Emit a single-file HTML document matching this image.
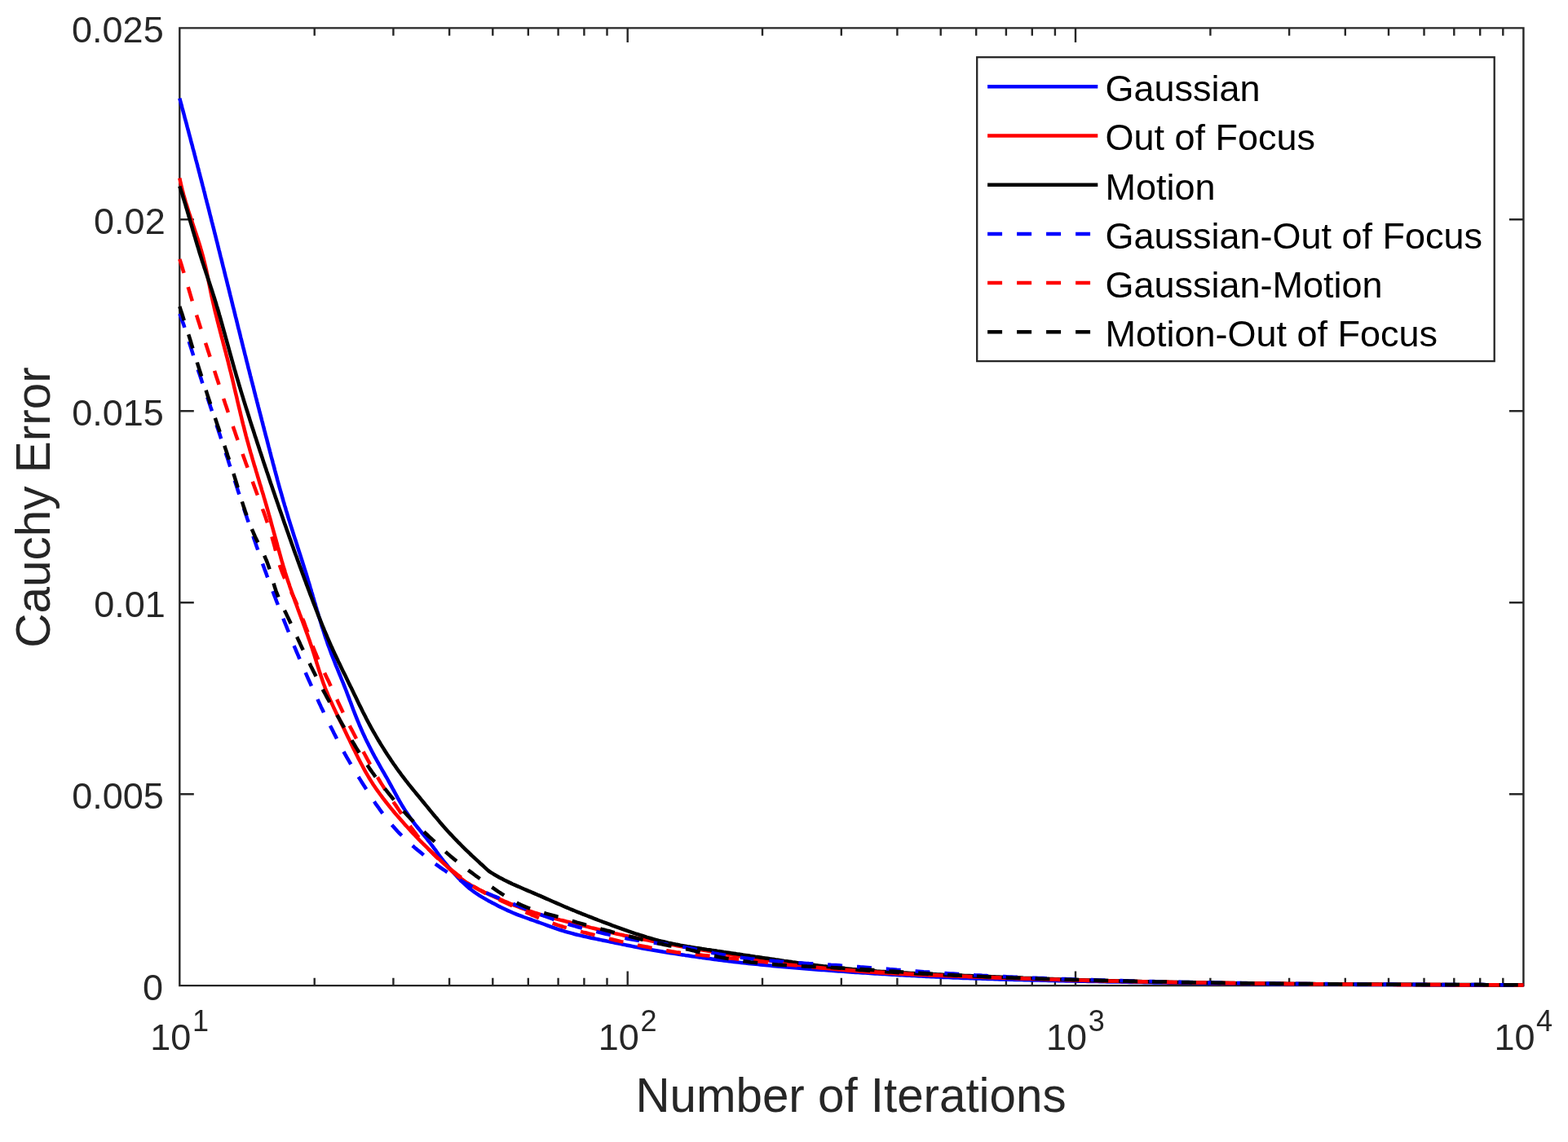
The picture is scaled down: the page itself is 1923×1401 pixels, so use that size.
<!DOCTYPE html><html><head><meta charset="utf-8"><title>Cauchy Error vs Number of Iterations</title>
<style>html,body{margin:0;padding:0;background:#fff;overflow:hidden}svg{display:block}text{font-family:"Liberation Sans",Arial,Helvetica,sans-serif}</style></head><body>
<svg width="1923" height="1401" viewBox="0 0 1923 1401">
<rect x="0" y="0" width="1923" height="1401" fill="#fff"/>
<path d="M220.3,34.4H1868.4V1209.1H220.3ZM220.3,1209.1v-17.5M220.3,34.4v17.5M385.7,1209.1v-9.4M385.7,34.4v9.4M482.4,1209.1v-9.4M482.4,34.4v9.4M551.1,1209.1v-9.4M551.1,34.4v9.4M604.3,1209.1v-9.4M604.3,34.4v9.4M647.8,1209.1v-9.4M647.8,34.4v9.4M684.6,1209.1v-9.4M684.6,34.4v9.4M716.4,1209.1v-9.4M716.4,34.4v9.4M744.5,1209.1v-9.4M744.5,34.4v9.4M769.7,1209.1v-17.5M769.7,34.4v17.5M935.0,1209.1v-9.4M935.0,34.4v9.4M1031.8,1209.1v-9.4M1031.8,34.4v9.4M1100.4,1209.1v-9.4M1100.4,34.4v9.4M1153.7,1209.1v-9.4M1153.7,34.4v9.4M1197.2,1209.1v-9.4M1197.2,34.4v9.4M1233.9,1209.1v-9.4M1233.9,34.4v9.4M1265.8,1209.1v-9.4M1265.8,34.4v9.4M1293.9,1209.1v-9.4M1293.9,34.4v9.4M1319.0,1209.1v-17.5M1319.0,34.4v17.5M1484.4,1209.1v-9.4M1484.4,34.4v9.4M1581.1,1209.1v-9.4M1581.1,34.4v9.4M1649.8,1209.1v-9.4M1649.8,34.4v9.4M1703.0,1209.1v-9.4M1703.0,34.4v9.4M1746.5,1209.1v-9.4M1746.5,34.4v9.4M1783.3,1209.1v-9.4M1783.3,34.4v9.4M1815.2,1209.1v-9.4M1815.2,34.4v9.4M1843.3,1209.1v-9.4M1843.3,34.4v9.4M1868.4,1209.1v-17.5M1868.4,34.4v17.5M220.3,1209.1h17.5M1868.4,1209.1h-17.5M220.3,974.2h17.5M1868.4,974.2h-17.5M220.3,739.2h17.5M1868.4,739.2h-17.5M220.3,504.3h17.5M1868.4,504.3h-17.5M220.3,269.3h17.5M1868.4,269.3h-17.5M220.3,34.4h17.5M1868.4,34.4h-17.5" fill="none" stroke="#262626" stroke-width="2.4" stroke-linecap="butt"/>
<g fill="none" stroke-width="4.5" stroke-linejoin="round" stroke-linecap="butt">
<path d="M220.3,120.7 L221.1,123.6 L221.9,126.5 L222.7,129.4 L223.4,132.3 L224.2,135.2 L225.0,138.1 L225.8,141.0 L226.5,143.9 L227.3,146.8 L228.1,149.7 L228.9,152.6 L229.6,155.5 L230.4,158.4 L231.2,161.3 L231.9,164.2 L232.7,167.1 L233.5,170.0 L234.2,172.9 L235.0,175.8 L235.8,178.7 L236.5,181.6 L237.3,184.5 L238.1,187.4 L238.8,190.3 L239.6,193.2 L240.3,196.1 L241.1,199.0 L241.9,201.9 L242.6,204.8 L243.4,207.7 L244.1,210.6 L244.9,213.5 L245.6,216.4 L246.4,219.3 L247.1,222.2 L247.9,225.1 L248.6,228.0 L249.4,230.9 L250.1,233.8 L250.9,236.7 L251.6,239.7 L252.3,242.6 L253.1,245.5 L253.8,248.4 L254.6,251.3 L255.3,254.2 L256.1,257.1 L256.8,260.0 L257.5,262.9 L258.3,265.8 L259.0,268.7 L259.7,271.6 L260.5,274.5 L261.2,277.4 L262.0,280.4 L262.7,283.3 L263.4,286.2 L264.2,289.1 L264.9,292.0 L265.6,294.9 L266.4,297.8 L267.1,300.7 L267.8,303.6 L268.5,306.5 L269.3,309.4 L270.0,312.4 L270.7,315.3 L271.5,318.2 L272.2,321.1 L272.9,324.0 L273.6,326.9 L274.4,329.8 L275.1,332.7 L275.8,335.6 L276.5,338.6 L277.3,341.5 L278.0,344.4 L278.7,347.3 L279.4,350.2 L280.2,353.1 L280.9,356.0 L281.6,358.9 L282.3,361.8 L283.1,364.8 L283.8,367.7 L284.5,370.6 L285.2,373.5 L285.9,376.4 L286.7,379.3 L287.4,382.2 L288.1,385.1 L288.8,388.1 L289.6,391.0 L290.3,393.9 L291.0,396.8 L291.7,399.7 L292.4,402.6 L293.2,405.5 L293.9,408.4 L294.6,411.3 L295.3,414.3 L296.1,417.2 L296.8,420.1 L297.5,423.0 L298.2,425.9 L299.0,428.8 L299.7,431.7 L300.4,434.6 L301.2,437.5 L301.9,440.5 L302.6,443.4 L303.4,446.3 L304.1,449.2 L304.8,452.1 L305.6,455.0 L306.3,457.9 L307.0,460.8 L307.8,463.7 L308.5,466.6 L309.3,469.5 L310.0,472.4 L310.8,475.3 L311.5,478.2 L312.2,481.2 L313.0,484.1 L313.7,487.0 L314.5,489.9 L315.2,492.8 L316.0,495.7 L316.7,498.6 L317.5,501.5 L318.2,504.4 L319.0,507.3 L319.7,510.2 L320.5,513.1 L321.2,516.0 L322.0,518.9 L322.7,521.8 L323.5,524.7 L324.2,527.6 L325.0,530.5 L325.7,533.4 L326.5,536.3 L327.3,539.2 L328.0,542.2 L328.8,545.1 L329.5,548.0 L330.3,550.9 L331.0,553.8 L331.8,556.7 L332.5,559.6 L333.3,562.5 L334.1,565.4 L334.8,568.3 L335.6,571.2 L336.4,574.1 L337.1,577.0 L337.9,579.9 L338.7,582.8 L339.5,585.7 L340.2,588.6 L341.0,591.5 L341.8,594.4 L342.6,597.3 L343.4,600.1 L344.2,603.0 L345.1,605.9 L345.9,608.8 L346.7,611.7 L347.5,614.6 L348.4,617.5 L349.2,620.3 L350.1,623.2 L350.9,626.1 L351.8,628.9 L352.7,631.8 L353.5,634.7 L354.4,637.6 L355.3,640.4 L356.2,643.3 L357.1,646.1 L358.0,649.0 L358.9,651.9 L359.8,654.7 L360.7,657.6 L361.6,660.4 L362.6,663.3 L363.5,666.1 L364.4,669.0 L365.3,671.9 L366.2,674.7 L367.1,677.6 L368.1,680.4 L369.0,683.3 L369.9,686.1 L370.8,689.0 L371.7,691.9 L372.6,694.7 L373.5,697.6 L374.4,700.5 L375.3,703.3 L376.2,706.2 L377.1,709.1 L377.9,711.9 L378.8,714.8 L379.7,717.7 L380.5,720.6 L381.4,723.4 L382.2,726.3 L383.1,729.2 L383.9,732.1 L384.8,735.0 L385.6,737.8 L386.5,740.7 L387.3,743.6 L388.2,746.5 L389.0,749.4 L389.9,752.2 L390.7,755.1 L391.6,758.0 L392.5,760.9 L393.4,763.7 L394.2,766.6 L395.1,769.5 L396.1,772.3 L397.0,775.2 L397.9,778.0 L398.8,780.9 L399.8,783.7 L400.8,786.5 L401.7,789.4 L402.7,792.2 L403.8,795.0 L404.8,797.8 L405.8,800.6 L406.9,803.4 L408.0,806.2 L409.1,809.0 L410.2,811.8 L411.3,814.6 L412.4,817.4 L413.6,820.2 L414.7,822.9 L415.8,825.7 L417.0,828.5 L418.1,831.3 L419.2,834.0 L420.4,836.8 L421.5,839.6 L422.6,842.4 L423.7,845.2 L424.8,848.0 L425.8,850.8 L426.9,853.6 L428.0,856.4 L429.0,859.2 L430.1,862.0 L431.1,864.8 L432.2,867.7 L433.2,870.5 L434.3,873.3 L435.4,876.1 L436.5,878.8 L437.6,881.6 L438.7,884.4 L439.9,887.2 L441.0,890.0 L442.2,892.7 L443.4,895.5 L444.6,898.2 L445.9,900.9 L447.2,903.7 L448.4,906.4 L449.7,909.1 L451.1,911.8 L452.4,914.5 L453.7,917.1 L455.1,919.8 L456.5,922.5 L457.9,925.1 L459.3,927.8 L460.8,930.4 L462.2,933.0 L463.7,935.7 L465.2,938.3 L466.6,940.9 L468.1,943.5 L469.6,946.1 L471.1,948.7 L472.6,951.3 L474.1,953.9 L475.6,956.5 L477.0,959.1 L478.5,961.8 L479.9,964.4 L481.3,967.0 L482.8,969.7 L484.2,972.3 L485.6,974.9 L487.1,977.6 L488.5,980.2 L490.0,982.8 L491.5,985.4 L493.0,988.0 L494.6,990.5 L496.2,993.1 L497.8,995.6 L499.5,998.1 L501.2,1000.6 L502.9,1003.0 L504.7,1005.5 L506.5,1007.9 L508.3,1010.3 L510.1,1012.6 L512.0,1015.0 L513.9,1017.3 L515.8,1019.6 L517.7,1022.0 L519.6,1024.3 L521.5,1026.6 L523.4,1028.9 L525.2,1031.3 L527.1,1033.6 L528.9,1036.0 L530.7,1038.4 L532.5,1040.8 L534.3,1043.2 L536.1,1045.7 L537.8,1048.1 L539.6,1050.5 L541.4,1052.9 L543.3,1055.3 L545.1,1057.6 L547.0,1060.0 L548.9,1062.3 L550.8,1064.6 L552.8,1066.9 L554.7,1069.1 L556.7,1071.3 L558.8,1073.6 L560.8,1075.7 L562.9,1077.9 L565.0,1080.0 L567.2,1082.2 L569.3,1084.2 L571.6,1086.3 L573.8,1088.2 L576.1,1090.2 L578.5,1092.0 L580.9,1093.8 L583.3,1095.5 L585.8,1097.2 L588.3,1098.8 L590.9,1100.4 L593.5,1101.9 L596.1,1103.4 L598.7,1104.9 L601.4,1106.3 L604.0,1107.7 L606.7,1109.1 L609.4,1110.5 L612.0,1111.9 L614.7,1113.2 L617.4,1114.5 L620.1,1115.8 L622.9,1117.1 L625.6,1118.3 L628.3,1119.5 L631.1,1120.7 L633.9,1121.8 L636.7,1122.9 L639.5,1123.9 L642.3,1125.0 L645.1,1126.0 L647.9,1127.0 L650.8,1128.0 L653.6,1129.0 L656.4,1130.0 L659.3,1131.0 L662.1,1132.0 L664.9,1133.0 L667.7,1134.0 L670.6,1135.1 L673.4,1136.1 L676.2,1137.1 L679.0,1138.1 L681.9,1139.1 L684.7,1140.1 L687.5,1141.0 L690.4,1141.9 L693.3,1142.8 L696.1,1143.6 L699.0,1144.4 L701.9,1145.2 L704.8,1146.0 L707.7,1146.7 L710.7,1147.4 L713.6,1148.1 L716.5,1148.8 L719.4,1149.4 L722.4,1150.0 L725.3,1150.7 L728.2,1151.3 L731.2,1151.9 L734.1,1152.5 L737.1,1153.1 L740.0,1153.7 L743.0,1154.3 L745.9,1154.9 L748.8,1155.5 L751.8,1156.1 L754.7,1156.7 L757.7,1157.3 L760.6,1157.9 L763.5,1158.5 L766.5,1159.1 L769.4,1159.7 L772.4,1160.3 L775.3,1160.9 L778.2,1161.5 L781.2,1162.0 L784.1,1162.6 L787.1,1163.2 L790.0,1163.7 L793.0,1164.2 L795.9,1164.8 L798.9,1165.3 L801.8,1165.8 L804.8,1166.3 L807.8,1166.8 L810.7,1167.3 L813.7,1167.8 L816.6,1168.2 L819.6,1168.7 L822.6,1169.2 L825.5,1169.6 L828.5,1170.1 L831.5,1170.5 L834.4,1171.0 L837.4,1171.4 L840.4,1171.9 L843.3,1172.3 L846.3,1172.7 L849.3,1173.2 L852.3,1173.6 L855.2,1174.0 L858.2,1174.4 L861.2,1174.9 L864.1,1175.3 L867.1,1175.7 L870.1,1176.1 L873.0,1176.5 L876.0,1176.9 L879.0,1177.3 L882.0,1177.7 L884.9,1178.0 L887.9,1178.4 L890.9,1178.8 L893.9,1179.2 L896.9,1179.5 L899.8,1179.9 L902.8,1180.2 L905.8,1180.6 L908.8,1180.9 L911.8,1181.2 L914.7,1181.6 L917.7,1181.9 L920.7,1182.2 L923.7,1182.5 L926.7,1182.8 L929.7,1183.1 L932.6,1183.4 L935.6,1183.7 L938.6,1184.0 L941.6,1184.3 L944.6,1184.6 L947.6,1184.9 L950.6,1185.2 L953.5,1185.4 L956.5,1185.7 L959.5,1186.0 L962.5,1186.3 L965.5,1186.5 L968.5,1186.8 L971.5,1187.0 L974.5,1187.3 L977.5,1187.5 L980.5,1187.8 L983.4,1188.0 L986.4,1188.3 L989.4,1188.5 L992.4,1188.7 L995.4,1189.0 L998.4,1189.2 L1001.4,1189.4 L1004.4,1189.7 L1007.4,1189.9 L1010.4,1190.1 L1013.4,1190.3 L1016.4,1190.5 L1019.4,1190.8 L1022.3,1191.0 L1025.3,1191.2 L1028.3,1191.4 L1031.3,1191.6 L1034.3,1191.8 L1037.3,1192.0 L1040.3,1192.2 L1043.3,1192.5 L1046.3,1192.7 L1049.3,1192.9 L1052.3,1193.1 L1055.3,1193.3 L1058.3,1193.4 L1061.3,1193.6 L1064.3,1193.8 L1067.2,1194.0 L1070.2,1194.2 L1073.2,1194.4 L1076.2,1194.6 L1079.2,1194.8 L1082.2,1195.0 L1085.2,1195.1 L1088.2,1195.3 L1091.2,1195.5 L1094.2,1195.7 L1097.2,1195.8 L1100.2,1196.0 L1103.2,1196.2 L1106.2,1196.3 L1109.2,1196.5 L1112.2,1196.7 L1115.2,1196.8 L1118.2,1197.0 L1121.2,1197.1 L1124.2,1197.3 L1127.2,1197.5 L1130.1,1197.6 L1133.1,1197.8 L1136.1,1197.9 L1139.1,1198.0 L1142.1,1198.2 L1145.1,1198.3 L1148.1,1198.5 L1151.1,1198.6 L1154.1,1198.7 L1157.1,1198.9 L1160.1,1199.0 L1163.1,1199.1 L1166.1,1199.3 L1169.1,1199.4 L1172.1,1199.5 L1175.1,1199.6 L1178.1,1199.7 L1181.1,1199.9 L1184.1,1200.0 L1187.1,1200.1 L1190.1,1200.2 L1193.1,1200.3 L1196.1,1200.4 L1199.1,1200.5 L1202.1,1200.6 L1205.1,1200.7 L1208.1,1200.8 L1211.1,1200.9 L1214.1,1201.0 L1217.1,1201.1 L1220.1,1201.2 L1223.1,1201.3 L1226.1,1201.4 L1229.1,1201.5 L1232.1,1201.5 L1235.1,1201.6 L1238.1,1201.7 L1241.1,1201.8 L1244.1,1201.9 L1247.1,1202.0 L1250.1,1202.0 L1253.1,1202.1 L1256.1,1202.2 L1259.1,1202.3 L1262.1,1202.3 L1265.1,1202.4 L1268.1,1202.5 L1271.1,1202.6 L1274.1,1202.6 L1277.0,1202.7 L1280.0,1202.8 L1283.0,1202.8 L1286.0,1202.9 L1289.0,1203.0 L1292.0,1203.0 L1295.0,1203.1 L1298.0,1203.2 L1301.0,1203.2 L1304.0,1203.3 L1307.0,1203.4 L1310.0,1203.4 L1313.0,1203.5 L1316.0,1203.5 L1319.0,1203.6 L1322.0,1203.7 L1325.0,1203.7 L1328.0,1203.8 L1331.0,1203.8 L1334.0,1203.9 L1337.0,1204.0 L1340.0,1204.0 L1343.0,1204.1 L1346.0,1204.1 L1349.0,1204.2 L1352.0,1204.3 L1355.0,1204.3 L1358.0,1204.4 L1361.0,1204.4 L1364.0,1204.5 L1367.0,1204.5 L1370.0,1204.6 L1373.0,1204.6 L1376.0,1204.7 L1379.0,1204.8 L1382.0,1204.8 L1385.0,1204.9 L1388.0,1204.9 L1391.0,1205.0 L1394.0,1205.0 L1397.0,1205.1 L1400.0,1205.1 L1403.0,1205.2 L1406.0,1205.2 L1409.0,1205.3 L1412.0,1205.3 L1415.0,1205.4 L1418.0,1205.4 L1421.0,1205.5 L1424.0,1205.5 L1427.0,1205.6 L1430.0,1205.6 L1433.0,1205.7 L1436.0,1205.7 L1439.0,1205.8 L1442.0,1205.8 L1445.0,1205.8 L1448.0,1205.9 L1451.0,1205.9 L1454.0,1206.0 L1457.0,1206.0 L1460.0,1206.1 L1463.0,1206.1 L1466.0,1206.1 L1469.0,1206.2 L1472.0,1206.2 L1475.0,1206.3 L1478.0,1206.3 L1481.0,1206.3 L1484.0,1206.4 L1487.0,1206.4 L1490.0,1206.5 L1493.0,1206.5 L1496.0,1206.5 L1499.0,1206.6 L1502.0,1206.6 L1505.0,1206.6 L1508.0,1206.7 L1511.0,1206.7 L1514.0,1206.7 L1517.0,1206.8 L1520.0,1206.8 L1523.0,1206.8 L1526.0,1206.9 L1529.0,1206.9 L1532.0,1206.9 L1535.0,1207.0 L1538.0,1207.0 L1541.0,1207.0 L1544.0,1207.1 L1547.0,1207.1 L1550.0,1207.1 L1553.0,1207.1 L1556.0,1207.2 L1559.0,1207.2 L1562.0,1207.2 L1565.0,1207.2 L1568.0,1207.3 L1571.0,1207.3 L1574.0,1207.3 L1577.0,1207.3 L1580.0,1207.4 L1583.0,1207.4 L1586.0,1207.4 L1589.0,1207.4 L1592.0,1207.4 L1595.0,1207.5 L1598.0,1207.5 L1601.0,1207.5 L1604.0,1207.5 L1607.0,1207.5 L1610.0,1207.6 L1613.0,1207.6 L1616.0,1207.6 L1619.0,1207.6 L1622.0,1207.6 L1625.0,1207.7 L1628.0,1207.7 L1631.0,1207.7 L1634.0,1207.7 L1637.0,1207.7 L1640.0,1207.7 L1643.0,1207.7 L1646.0,1207.8 L1649.0,1207.8 L1652.0,1207.8 L1655.0,1207.8 L1658.0,1207.8 L1661.0,1207.8 L1664.0,1207.9 L1667.0,1207.9 L1670.0,1207.9 L1673.0,1207.9 L1676.0,1207.9 L1679.0,1207.9 L1682.0,1207.9 L1685.0,1207.9 L1688.0,1208.0 L1691.0,1208.0 L1694.0,1208.0 L1697.0,1208.0 L1700.0,1208.0 L1703.0,1208.0 L1706.0,1208.0 L1709.0,1208.0 L1712.0,1208.0 L1715.0,1208.1 L1718.0,1208.1 L1721.0,1208.1 L1724.0,1208.1 L1727.0,1208.1 L1730.0,1208.1 L1733.0,1208.1 L1736.0,1208.1 L1739.0,1208.1 L1742.0,1208.1 L1745.0,1208.2 L1748.0,1208.2 L1751.0,1208.2 L1754.0,1208.2 L1757.0,1208.2 L1760.0,1208.2 L1763.0,1208.2 L1766.0,1208.2 L1769.0,1208.2 L1772.0,1208.2 L1775.0,1208.3 L1778.0,1208.3 L1781.0,1208.3 L1784.0,1208.3 L1787.0,1208.3 L1790.0,1208.3 L1793.0,1208.3 L1796.0,1208.3 L1799.0,1208.3 L1802.0,1208.3 L1805.0,1208.4 L1808.0,1208.4 L1811.0,1208.4 L1814.0,1208.4 L1817.0,1208.4 L1820.0,1208.4 L1823.0,1208.4 L1826.0,1208.4 L1829.0,1208.4 L1832.0,1208.5 L1835.0,1208.5 L1838.0,1208.5 L1841.0,1208.5 L1844.0,1208.5 L1847.0,1208.5 L1850.0,1208.5 L1853.0,1208.5 L1856.0,1208.5 L1859.0,1208.6 L1862.0,1208.6 L1865.0,1208.6 L1868.0,1208.6 L1868.4,1208.6" stroke="#0000ff"/>
<path d="M220.3,218.5 L220.9,221.4 L221.5,224.4 L222.2,227.3 L222.9,230.2 L223.6,233.1 L224.4,236.0 L225.1,238.9 L226.0,241.8 L226.8,244.7 L227.6,247.6 L228.5,250.5 L229.4,253.3 L230.3,256.2 L231.2,259.1 L232.1,261.9 L233.1,264.8 L234.0,267.6 L235.0,270.5 L235.9,273.3 L236.9,276.2 L237.8,279.0 L238.8,281.9 L239.7,284.7 L240.7,287.6 L241.6,290.4 L242.6,293.3 L243.5,296.1 L244.4,299.0 L245.3,301.9 L246.1,304.7 L247.0,307.6 L247.8,310.5 L248.6,313.4 L249.4,316.3 L250.1,319.2 L250.8,322.1 L251.5,325.0 L252.2,327.9 L252.9,330.8 L253.5,333.8 L254.1,336.7 L254.7,339.6 L255.3,342.6 L255.9,345.5 L256.5,348.5 L257.1,351.4 L257.7,354.4 L258.3,357.3 L258.9,360.2 L259.5,363.2 L260.2,366.1 L260.8,369.0 L261.5,372.0 L262.2,374.9 L262.8,377.8 L263.5,380.7 L264.2,383.6 L265.0,386.6 L265.7,389.5 L266.4,392.4 L267.1,395.3 L267.9,398.2 L268.6,401.1 L269.4,404.0 L270.1,406.9 L270.9,409.8 L271.6,412.7 L272.4,415.6 L273.2,418.5 L273.9,421.4 L274.7,424.3 L275.4,427.2 L276.2,430.1 L277.0,433.0 L277.7,435.9 L278.5,438.8 L279.2,441.7 L280.0,444.7 L280.7,447.6 L281.4,450.5 L282.1,453.4 L282.9,456.3 L283.6,459.2 L284.3,462.1 L285.0,465.1 L285.7,468.0 L286.4,470.9 L287.0,473.8 L287.7,476.7 L288.4,479.7 L289.1,482.6 L289.8,485.5 L290.5,488.4 L291.1,491.3 L291.8,494.3 L292.5,497.2 L293.2,500.1 L293.9,503.0 L294.6,505.9 L295.3,508.9 L296.0,511.8 L296.7,514.7 L297.4,517.6 L298.1,520.5 L298.9,523.4 L299.6,526.3 L300.3,529.2 L301.1,532.1 L301.8,535.0 L302.6,537.9 L303.4,540.8 L304.2,543.7 L305.0,546.6 L305.8,549.5 L306.6,552.4 L307.4,555.3 L308.3,558.2 L309.1,561.0 L309.9,563.9 L310.8,566.8 L311.6,569.7 L312.5,572.5 L313.4,575.4 L314.2,578.3 L315.1,581.2 L315.9,584.0 L316.8,586.9 L317.7,589.8 L318.5,592.7 L319.4,595.5 L320.3,598.4 L321.1,601.3 L322.0,604.2 L322.9,607.0 L323.7,609.9 L324.6,612.8 L325.4,615.7 L326.2,618.5 L327.1,621.4 L327.9,624.3 L328.7,627.2 L329.5,630.1 L330.3,633.0 L331.2,635.9 L332.0,638.8 L332.7,641.7 L333.5,644.6 L334.3,647.5 L335.1,650.4 L335.9,653.3 L336.7,656.1 L337.5,659.0 L338.3,661.9 L339.1,664.8 L339.9,667.7 L340.6,670.6 L341.5,673.5 L342.3,676.4 L343.1,679.3 L343.9,682.2 L344.7,685.1 L345.5,687.9 L346.4,690.8 L347.2,693.7 L348.1,696.6 L349.0,699.4 L349.8,702.3 L350.7,705.2 L351.6,708.0 L352.6,710.9 L353.5,713.7 L354.5,716.6 L355.4,719.4 L356.4,722.2 L357.4,725.1 L358.4,727.9 L359.4,730.7 L360.4,733.5 L361.4,736.4 L362.4,739.2 L363.5,742.0 L364.5,744.8 L365.5,747.6 L366.6,750.4 L367.6,753.3 L368.7,756.1 L369.7,758.9 L370.8,761.7 L371.8,764.5 L372.8,767.3 L373.9,770.1 L374.9,773.0 L375.9,775.8 L377.0,778.6 L378.0,781.4 L379.0,784.3 L380.0,787.1 L380.9,789.9 L381.9,792.8 L382.9,795.6 L383.8,798.5 L384.7,801.3 L385.6,804.2 L386.5,807.1 L387.4,809.9 L388.3,812.8 L389.2,815.7 L390.1,818.5 L391.0,821.4 L391.9,824.2 L392.9,827.1 L393.8,829.9 L394.8,832.8 L395.7,835.6 L396.7,838.4 L397.8,841.3 L398.8,844.1 L399.9,846.8 L401.1,849.6 L402.2,852.4 L403.4,855.1 L404.6,857.9 L405.8,860.6 L407.1,863.3 L408.4,866.1 L409.6,868.8 L410.9,871.5 L412.2,874.2 L413.5,876.9 L414.9,879.6 L416.2,882.3 L417.5,885.0 L418.8,887.7 L420.1,890.4 L421.4,893.1 L422.7,895.8 L424.0,898.5 L425.3,901.2 L426.6,903.9 L427.9,906.6 L429.2,909.3 L430.5,912.0 L431.8,914.7 L433.1,917.4 L434.5,920.1 L435.8,922.8 L437.1,925.5 L438.5,928.2 L439.8,930.9 L441.2,933.5 L442.6,936.2 L444.0,938.8 L445.4,941.5 L446.8,944.1 L448.3,946.8 L449.8,949.4 L451.3,952.0 L452.8,954.5 L454.4,957.1 L456.0,959.6 L457.6,962.2 L459.3,964.7 L460.9,967.1 L462.7,969.6 L464.4,972.0 L466.2,974.5 L468.0,976.9 L469.8,979.3 L471.6,981.7 L473.4,984.0 L475.3,986.4 L477.2,988.7 L479.1,991.1 L481.0,993.4 L482.9,995.7 L484.8,998.0 L486.8,1000.3 L488.7,1002.5 L490.7,1004.8 L492.7,1007.1 L494.7,1009.3 L496.6,1011.6 L498.7,1013.8 L500.7,1016.0 L502.7,1018.2 L504.7,1020.4 L506.8,1022.6 L508.9,1024.8 L510.9,1027.0 L513.0,1029.1 L515.1,1031.3 L517.2,1033.4 L519.3,1035.5 L521.5,1037.6 L523.6,1039.7 L525.7,1041.8 L527.9,1043.9 L530.1,1046.0 L532.2,1048.0 L534.4,1050.1 L536.6,1052.2 L538.8,1054.2 L541.0,1056.3 L543.2,1058.3 L545.4,1060.4 L547.6,1062.4 L549.8,1064.5 L552.0,1066.5 L554.2,1068.5 L556.5,1070.5 L558.8,1072.5 L561.1,1074.4 L563.4,1076.3 L565.8,1078.1 L568.2,1079.9 L570.6,1081.6 L573.1,1083.3 L575.7,1084.8 L578.2,1086.4 L580.9,1087.8 L583.5,1089.3 L586.2,1090.7 L588.9,1092.0 L591.6,1093.3 L594.3,1094.7 L597.0,1095.9 L599.7,1097.2 L602.4,1098.5 L605.2,1099.7 L607.9,1100.9 L610.7,1102.1 L613.4,1103.3 L616.2,1104.5 L618.9,1105.7 L621.7,1106.9 L624.4,1108.0 L627.2,1109.2 L630.0,1110.3 L632.8,1111.4 L635.6,1112.5 L638.4,1113.6 L641.2,1114.7 L644.0,1115.7 L646.8,1116.7 L649.6,1117.7 L652.5,1118.7 L655.3,1119.6 L658.2,1120.5 L661.1,1121.4 L663.9,1122.3 L666.8,1123.1 L669.7,1123.9 L672.6,1124.7 L675.5,1125.5 L678.4,1126.3 L681.3,1127.1 L684.2,1127.8 L687.1,1128.6 L690.0,1129.3 L692.9,1130.0 L695.8,1130.8 L698.7,1131.5 L701.6,1132.3 L704.6,1133.0 L707.5,1133.7 L710.4,1134.5 L713.3,1135.2 L716.2,1135.9 L719.1,1136.6 L722.0,1137.3 L724.9,1138.1 L727.8,1138.8 L730.8,1139.5 L733.7,1140.2 L736.6,1140.9 L739.5,1141.6 L742.4,1142.3 L745.3,1143.0 L748.3,1143.7 L751.2,1144.4 L754.1,1145.1 L757.0,1145.7 L760.0,1146.4 L762.9,1147.0 L765.8,1147.7 L768.7,1148.3 L771.7,1148.9 L774.6,1149.5 L777.6,1150.1 L780.5,1150.7 L783.4,1151.3 L786.4,1151.9 L789.3,1152.5 L792.3,1153.1 L795.2,1153.6 L798.2,1154.2 L801.1,1154.8 L804.1,1155.3 L807.0,1155.9 L810.0,1156.4 L812.9,1157.0 L815.9,1157.5 L818.8,1158.0 L821.8,1158.6 L824.7,1159.1 L827.7,1159.6 L830.6,1160.2 L833.6,1160.7 L836.5,1161.2 L839.5,1161.7 L842.4,1162.2 L845.4,1162.7 L848.4,1163.3 L851.3,1163.8 L854.3,1164.3 L857.2,1164.8 L860.2,1165.2 L863.1,1165.7 L866.1,1166.2 L869.1,1166.7 L872.0,1167.2 L875.0,1167.7 L877.9,1168.2 L880.9,1168.7 L883.9,1169.2 L886.8,1169.7 L889.8,1170.1 L892.7,1170.6 L895.7,1171.1 L898.7,1171.6 L901.6,1172.1 L904.6,1172.6 L907.6,1173.0 L910.5,1173.5 L913.5,1174.0 L916.5,1174.5 L919.4,1174.9 L922.4,1175.4 L925.3,1175.9 L928.3,1176.3 L931.3,1176.8 L934.2,1177.2 L937.2,1177.7 L940.2,1178.2 L943.1,1178.6 L946.1,1179.0 L949.1,1179.5 L952.1,1179.9 L955.0,1180.4 L958.0,1180.8 L961.0,1181.2 L963.9,1181.6 L966.9,1182.0 L969.9,1182.5 L972.8,1182.9 L975.8,1183.3 L978.8,1183.7 L981.8,1184.0 L984.7,1184.4 L987.7,1184.8 L990.7,1185.2 L993.7,1185.6 L996.6,1185.9 L999.6,1186.3 L1002.6,1186.6 L1005.6,1187.0 L1008.6,1187.3 L1011.5,1187.6 L1014.5,1187.9 L1017.5,1188.3 L1020.5,1188.6 L1023.5,1188.9 L1026.5,1189.2 L1029.4,1189.5 L1032.4,1189.7 L1035.4,1190.0 L1038.4,1190.3 L1041.4,1190.5 L1044.4,1190.8 L1047.4,1191.0 L1050.4,1191.3 L1053.3,1191.5 L1056.3,1191.7 L1059.3,1192.0 L1062.3,1192.2 L1065.3,1192.4 L1068.3,1192.6 L1071.3,1192.8 L1074.3,1193.0 L1077.3,1193.2 L1080.3,1193.4 L1083.3,1193.6 L1086.3,1193.7 L1089.3,1193.9 L1092.3,1194.1 L1095.3,1194.2 L1098.3,1194.4 L1101.3,1194.6 L1104.2,1194.7 L1107.2,1194.9 L1110.2,1195.0 L1113.2,1195.2 L1116.2,1195.3 L1119.2,1195.4 L1122.2,1195.6 L1125.2,1195.7 L1128.2,1195.9 L1131.2,1196.0 L1134.2,1196.1 L1137.2,1196.2 L1140.2,1196.4 L1143.2,1196.5 L1146.2,1196.6 L1149.2,1196.7 L1152.2,1196.8 L1155.2,1197.0 L1158.2,1197.1 L1161.2,1197.2 L1164.2,1197.3 L1167.2,1197.4 L1170.2,1197.5 L1173.2,1197.6 L1176.2,1197.8 L1179.2,1197.9 L1182.2,1198.0 L1185.2,1198.1 L1188.2,1198.2 L1191.2,1198.3 L1194.2,1198.4 L1197.2,1198.5 L1200.2,1198.6 L1203.2,1198.7 L1206.2,1198.9 L1209.2,1199.0 L1212.2,1199.1 L1215.2,1199.2 L1218.2,1199.3 L1221.2,1199.4 L1224.2,1199.5 L1227.2,1199.6 L1230.2,1199.7 L1233.2,1199.8 L1236.2,1199.9 L1239.2,1200.0 L1242.2,1200.1 L1245.2,1200.2 L1248.2,1200.3 L1251.2,1200.4 L1254.2,1200.5 L1257.2,1200.6 L1260.2,1200.7 L1263.2,1200.8 L1266.2,1200.9 L1269.2,1201.0 L1272.2,1201.1 L1275.2,1201.2 L1278.2,1201.3 L1281.2,1201.4 L1284.2,1201.5 L1287.2,1201.6 L1290.2,1201.7 L1293.2,1201.8 L1296.2,1201.8 L1299.2,1201.9 L1302.2,1202.0 L1305.2,1202.1 L1308.1,1202.2 L1311.1,1202.3 L1314.1,1202.4 L1317.1,1202.4 L1320.1,1202.5 L1323.1,1202.6 L1326.1,1202.7 L1329.1,1202.8 L1332.1,1202.9 L1335.1,1202.9 L1338.1,1203.0 L1341.1,1203.1 L1344.1,1203.2 L1347.1,1203.2 L1350.1,1203.3 L1353.1,1203.4 L1356.1,1203.5 L1359.1,1203.5 L1362.1,1203.6 L1365.1,1203.7 L1368.1,1203.7 L1371.1,1203.8 L1374.1,1203.9 L1377.1,1203.9 L1380.1,1204.0 L1383.1,1204.1 L1386.1,1204.1 L1389.1,1204.2 L1392.1,1204.3 L1395.1,1204.3 L1398.1,1204.4 L1401.1,1204.4 L1404.1,1204.5 L1407.1,1204.6 L1410.1,1204.6 L1413.1,1204.7 L1416.1,1204.7 L1419.1,1204.8 L1422.1,1204.8 L1425.1,1204.9 L1428.1,1205.0 L1431.1,1205.0 L1434.1,1205.1 L1437.1,1205.1 L1440.1,1205.2 L1443.1,1205.2 L1446.1,1205.3 L1449.1,1205.3 L1452.1,1205.4 L1455.1,1205.4 L1458.1,1205.5 L1461.1,1205.5 L1464.1,1205.5 L1467.1,1205.6 L1470.1,1205.6 L1473.1,1205.7 L1476.1,1205.7 L1479.1,1205.8 L1482.1,1205.8 L1485.1,1205.9 L1488.1,1205.9 L1491.1,1205.9 L1494.1,1206.0 L1497.1,1206.0 L1500.1,1206.1 L1503.1,1206.1 L1506.1,1206.1 L1509.1,1206.2 L1512.1,1206.2 L1515.1,1206.3 L1518.1,1206.3 L1521.1,1206.3 L1524.1,1206.4 L1527.1,1206.4 L1530.1,1206.4 L1533.1,1206.5 L1536.1,1206.5 L1539.1,1206.5 L1542.1,1206.6 L1545.1,1206.6 L1548.1,1206.6 L1551.1,1206.7 L1554.1,1206.7 L1557.1,1206.7 L1560.1,1206.8 L1563.1,1206.8 L1566.1,1206.8 L1569.1,1206.8 L1572.1,1206.9 L1575.1,1206.9 L1578.1,1206.9 L1581.1,1207.0 L1584.1,1207.0 L1587.1,1207.0 L1590.1,1207.0 L1593.1,1207.1 L1596.1,1207.1 L1599.1,1207.1 L1602.1,1207.1 L1605.1,1207.2 L1608.1,1207.2 L1611.1,1207.2 L1614.1,1207.2 L1617.1,1207.3 L1620.1,1207.3 L1623.1,1207.3 L1626.1,1207.3 L1629.1,1207.4 L1632.1,1207.4 L1635.1,1207.4 L1638.1,1207.4 L1641.1,1207.4 L1644.1,1207.5 L1647.1,1207.5 L1650.1,1207.5 L1653.1,1207.5 L1656.1,1207.5 L1659.1,1207.6 L1662.1,1207.6 L1665.1,1207.6 L1668.1,1207.6 L1671.1,1207.6 L1674.1,1207.7 L1677.1,1207.7 L1680.1,1207.7 L1683.1,1207.7 L1686.1,1207.7 L1689.1,1207.7 L1692.1,1207.8 L1695.1,1207.8 L1698.1,1207.8 L1701.1,1207.8 L1704.1,1207.8 L1707.1,1207.8 L1710.1,1207.9 L1713.1,1207.9 L1716.1,1207.9 L1719.1,1207.9 L1722.1,1207.9 L1725.1,1207.9 L1728.1,1207.9 L1731.1,1208.0 L1734.1,1208.0 L1737.1,1208.0 L1740.1,1208.0 L1743.1,1208.0 L1746.1,1208.0 L1749.1,1208.0 L1752.1,1208.1 L1755.1,1208.1 L1758.1,1208.1 L1761.1,1208.1 L1764.1,1208.1 L1767.1,1208.1 L1770.1,1208.1 L1773.1,1208.1 L1776.1,1208.2 L1779.1,1208.2 L1782.1,1208.2 L1785.1,1208.2 L1788.1,1208.2 L1791.1,1208.2 L1794.1,1208.2 L1797.1,1208.2 L1800.1,1208.2 L1803.1,1208.3 L1806.1,1208.3 L1809.1,1208.3 L1812.1,1208.3 L1815.1,1208.3 L1818.1,1208.3 L1821.1,1208.3 L1824.1,1208.3 L1827.1,1208.3 L1830.1,1208.4 L1833.1,1208.4 L1836.1,1208.4 L1839.1,1208.4 L1842.1,1208.4 L1845.1,1208.4 L1848.1,1208.4 L1851.1,1208.4 L1854.1,1208.4 L1857.1,1208.5 L1860.1,1208.5 L1863.1,1208.5 L1866.1,1208.5 L1868.4,1208.5" stroke="#ff0000"/>
<path d="M220.3,228.5 L221.2,231.4 L222.1,234.2 L223.1,237.1 L224.0,239.9 L224.8,242.8 L225.7,245.7 L226.6,248.5 L227.5,251.4 L228.3,254.3 L229.2,257.2 L230.0,260.0 L230.9,262.9 L231.7,265.8 L232.6,268.7 L233.4,271.6 L234.2,274.4 L235.1,277.3 L235.9,280.2 L236.7,283.1 L237.6,286.0 L238.4,288.8 L239.3,291.7 L240.1,294.6 L241.0,297.5 L241.8,300.3 L242.7,303.2 L243.6,306.1 L244.4,309.0 L245.3,311.8 L246.2,314.7 L247.1,317.5 L248.0,320.4 L249.0,323.3 L249.9,326.1 L250.8,329.0 L251.8,331.8 L252.7,334.7 L253.7,337.5 L254.6,340.3 L255.6,343.2 L256.5,346.0 L257.5,348.9 L258.4,351.7 L259.3,354.6 L260.3,357.4 L261.2,360.3 L262.1,363.1 L263.0,366.0 L263.9,368.9 L264.8,371.7 L265.6,374.6 L266.5,377.5 L267.4,380.4 L268.2,383.2 L269.0,386.1 L269.9,389.0 L270.7,391.9 L271.5,394.8 L272.3,397.7 L273.1,400.6 L273.9,403.4 L274.7,406.3 L275.5,409.2 L276.3,412.1 L277.1,415.0 L277.9,417.9 L278.7,420.8 L279.5,423.7 L280.3,426.6 L281.1,429.5 L281.9,432.4 L282.7,435.3 L283.5,438.2 L284.3,441.1 L285.1,443.9 L285.9,446.8 L286.7,449.7 L287.5,452.6 L288.4,455.5 L289.2,458.4 L290.0,461.3 L290.9,464.1 L291.7,467.0 L292.6,469.9 L293.4,472.8 L294.3,475.6 L295.1,478.5 L296.0,481.4 L296.9,484.3 L297.8,487.1 L298.6,490.0 L299.5,492.9 L300.4,495.7 L301.3,498.6 L302.2,501.5 L303.1,504.3 L304.0,507.2 L304.9,510.0 L305.8,512.9 L306.7,515.8 L307.6,518.6 L308.5,521.5 L309.4,524.3 L310.4,527.2 L311.3,530.0 L312.2,532.9 L313.1,535.8 L314.1,538.6 L315.0,541.5 L315.9,544.3 L316.9,547.2 L317.8,550.0 L318.7,552.9 L319.7,555.7 L320.6,558.6 L321.6,561.4 L322.5,564.3 L323.4,567.1 L324.4,570.0 L325.3,572.8 L326.3,575.6 L327.2,578.5 L328.2,581.3 L329.2,584.2 L330.1,587.0 L331.1,589.9 L332.0,592.7 L333.0,595.5 L334.0,598.4 L334.9,601.2 L335.9,604.1 L336.9,606.9 L337.8,609.7 L338.8,612.6 L339.8,615.4 L340.8,618.3 L341.7,621.1 L342.7,623.9 L343.7,626.8 L344.7,629.6 L345.7,632.4 L346.7,635.3 L347.6,638.1 L348.6,640.9 L349.6,643.8 L350.6,646.6 L351.6,649.4 L352.6,652.2 L353.6,655.1 L354.6,657.9 L355.6,660.7 L356.6,663.6 L357.6,666.4 L358.6,669.2 L359.6,672.0 L360.6,674.9 L361.6,677.7 L362.6,680.5 L363.7,683.3 L364.7,686.2 L365.7,689.0 L366.7,691.8 L367.7,694.6 L368.8,697.4 L369.8,700.3 L370.8,703.1 L371.9,705.9 L372.9,708.7 L373.9,711.5 L375.0,714.3 L376.0,717.2 L377.1,720.0 L378.1,722.8 L379.2,725.6 L380.2,728.4 L381.3,731.2 L382.4,734.0 L383.4,736.8 L384.5,739.6 L385.6,742.4 L386.7,745.2 L387.7,748.0 L388.8,750.8 L389.9,753.6 L391.0,756.4 L392.2,759.2 L393.3,762.0 L394.4,764.8 L395.5,767.5 L396.7,770.3 L397.8,773.1 L399.0,775.8 L400.2,778.6 L401.3,781.4 L402.5,784.1 L403.7,786.9 L404.9,789.6 L406.1,792.4 L407.4,795.1 L408.6,797.8 L409.9,800.6 L411.1,803.3 L412.4,806.0 L413.7,808.7 L414.9,811.4 L416.2,814.1 L417.5,816.8 L418.8,819.5 L420.1,822.2 L421.4,824.9 L422.8,827.6 L424.1,830.3 L425.4,833.0 L426.7,835.7 L428.0,838.4 L429.3,841.1 L430.7,843.8 L432.0,846.5 L433.3,849.2 L434.6,851.9 L435.9,854.6 L437.2,857.3 L438.5,860.0 L439.8,862.7 L441.1,865.4 L442.5,868.1 L443.8,870.8 L445.1,873.5 L446.5,876.1 L447.9,878.8 L449.2,881.5 L450.6,884.1 L452.0,886.8 L453.4,889.4 L454.9,892.1 L456.3,894.7 L457.8,897.3 L459.3,899.9 L460.8,902.5 L462.3,905.1 L463.8,907.7 L465.4,910.3 L466.9,912.8 L468.5,915.4 L470.1,917.9 L471.7,920.5 L473.3,923.0 L474.9,925.5 L476.6,928.0 L478.3,930.5 L479.9,933.0 L481.6,935.5 L483.3,938.0 L485.1,940.4 L486.8,942.9 L488.5,945.3 L490.3,947.7 L492.1,950.2 L493.9,952.6 L495.7,954.9 L497.5,957.3 L499.4,959.7 L501.2,962.1 L503.1,964.4 L505.0,966.7 L506.9,969.1 L508.8,971.4 L510.7,973.7 L512.6,976.0 L514.5,978.3 L516.4,980.6 L518.3,983.0 L520.2,985.3 L522.1,987.6 L524.0,989.9 L525.9,992.2 L527.8,994.6 L529.7,996.9 L531.6,999.2 L533.5,1001.5 L535.5,1003.8 L537.4,1006.1 L539.3,1008.4 L541.3,1010.7 L543.2,1013.0 L545.2,1015.2 L547.2,1017.5 L549.2,1019.7 L551.2,1021.9 L553.3,1024.1 L555.3,1026.3 L557.4,1028.5 L559.5,1030.6 L561.6,1032.8 L563.7,1034.9 L565.8,1037.0 L567.9,1039.2 L570.1,1041.3 L572.2,1043.4 L574.4,1045.4 L576.5,1047.5 L578.7,1049.6 L580.9,1051.6 L583.1,1053.7 L585.3,1055.7 L587.5,1057.7 L589.7,1059.8 L592.0,1061.8 L594.2,1063.8 L596.4,1065.8 L598.6,1067.8 L600.0,1069.0 L602.5,1070.6 L605.1,1072.2 L607.7,1073.7 L610.3,1075.2 L612.9,1076.7 L615.6,1078.1 L618.2,1079.5 L620.9,1080.8 L623.6,1082.1 L626.3,1083.4 L629.0,1084.7 L631.8,1085.9 L634.5,1087.1 L637.3,1088.3 L640.0,1089.5 L642.8,1090.7 L645.5,1091.9 L648.3,1093.1 L651.1,1094.2 L653.8,1095.4 L656.6,1096.6 L659.3,1097.8 L662.1,1098.9 L664.8,1100.1 L667.6,1101.4 L670.3,1102.6 L673.1,1103.8 L675.8,1105.0 L678.6,1106.2 L681.3,1107.4 L684.1,1108.6 L686.8,1109.8 L689.6,1111.0 L692.3,1112.2 L695.1,1113.4 L697.8,1114.5 L700.6,1115.7 L703.4,1116.8 L706.2,1118.0 L708.9,1119.1 L711.7,1120.2 L714.5,1121.3 L717.3,1122.4 L720.1,1123.5 L722.9,1124.6 L725.7,1125.7 L728.5,1126.8 L731.3,1127.9 L734.1,1129.0 L736.9,1130.0 L739.7,1131.1 L742.5,1132.1 L745.3,1133.2 L748.1,1134.2 L750.9,1135.3 L753.8,1136.3 L756.6,1137.4 L759.4,1138.4 L762.2,1139.4 L765.0,1140.4 L767.9,1141.4 L770.7,1142.4 L773.5,1143.3 L776.4,1144.3 L779.2,1145.3 L782.1,1146.2 L784.9,1147.1 L787.8,1148.0 L790.7,1148.9 L793.5,1149.8 L796.4,1150.6 L799.3,1151.5 L802.2,1152.3 L805.1,1153.1 L808.0,1153.9 L810.9,1154.6 L813.8,1155.3 L816.7,1156.0 L819.6,1156.7 L822.6,1157.3 L825.5,1157.9 L828.5,1158.5 L831.4,1159.0 L834.4,1159.6 L837.3,1160.1 L840.3,1160.6 L843.2,1161.2 L846.2,1161.6 L849.1,1162.1 L852.1,1162.6 L855.1,1163.1 L858.0,1163.5 L861.0,1164.0 L864.0,1164.4 L866.9,1164.9 L869.9,1165.3 L872.9,1165.8 L875.8,1166.2 L878.8,1166.6 L881.8,1167.1 L884.7,1167.5 L887.7,1168.0 L890.7,1168.4 L893.6,1168.8 L896.6,1169.3 L899.6,1169.7 L902.5,1170.1 L905.5,1170.6 L908.5,1171.0 L911.4,1171.5 L914.4,1171.9 L917.4,1172.3 L920.3,1172.8 L923.3,1173.2 L926.3,1173.7 L929.3,1174.1 L932.2,1174.5 L935.2,1175.0 L938.2,1175.4 L941.1,1175.8 L944.1,1176.3 L947.1,1176.7 L950.0,1177.1 L953.0,1177.6 L956.0,1178.0 L958.9,1178.4 L961.9,1178.9 L964.9,1179.3 L967.8,1179.7 L970.8,1180.1 L973.8,1180.6 L976.8,1181.0 L979.7,1181.4 L982.7,1181.8 L985.7,1182.2 L988.7,1182.6 L991.6,1183.0 L994.6,1183.4 L997.6,1183.8 L1000.5,1184.2 L1003.5,1184.6 L1006.5,1184.9 L1009.5,1185.3 L1012.5,1185.6 L1015.4,1186.0 L1018.4,1186.3 L1021.4,1186.7 L1024.4,1187.0 L1027.4,1187.3 L1030.3,1187.6 L1033.3,1187.9 L1036.3,1188.2 L1039.3,1188.5 L1042.3,1188.8 L1045.3,1189.1 L1048.3,1189.3 L1051.2,1189.6 L1054.2,1189.9 L1057.2,1190.1 L1060.2,1190.3 L1063.2,1190.6 L1066.2,1190.8 L1069.2,1191.0 L1072.2,1191.2 L1075.2,1191.5 L1078.2,1191.7 L1081.2,1191.9 L1084.1,1192.1 L1087.1,1192.3 L1090.1,1192.4 L1093.1,1192.6 L1096.1,1192.8 L1099.1,1193.0 L1102.1,1193.2 L1105.1,1193.3 L1108.1,1193.5 L1111.1,1193.6 L1114.1,1193.8 L1117.1,1194.0 L1120.1,1194.1 L1123.1,1194.2 L1126.1,1194.4 L1129.1,1194.5 L1132.1,1194.7 L1135.1,1194.8 L1138.1,1195.0 L1141.1,1195.1 L1144.1,1195.2 L1147.1,1195.3 L1150.1,1195.5 L1153.1,1195.6 L1156.1,1195.7 L1159.1,1195.9 L1162.1,1196.0 L1165.1,1196.1 L1168.1,1196.2 L1171.1,1196.4 L1174.1,1196.5 L1177.1,1196.6 L1180.1,1196.7 L1183.1,1196.9 L1186.1,1197.0 L1189.1,1197.1 L1192.1,1197.2 L1195.1,1197.4 L1198.1,1197.5 L1201.1,1197.6 L1204.1,1197.7 L1207.1,1197.9 L1210.1,1198.0 L1213.1,1198.1 L1216.1,1198.2 L1219.1,1198.3 L1222.1,1198.5 L1225.1,1198.6 L1228.1,1198.7 L1231.0,1198.8 L1234.0,1198.9 L1237.0,1199.1 L1240.0,1199.2 L1243.0,1199.3 L1246.0,1199.4 L1249.0,1199.5 L1252.0,1199.6 L1255.0,1199.8 L1258.0,1199.9 L1261.0,1200.0 L1264.0,1200.1 L1267.0,1200.2 L1270.0,1200.3 L1273.0,1200.4 L1276.0,1200.5 L1279.0,1200.6 L1282.0,1200.8 L1285.0,1200.9 L1288.0,1201.0 L1291.0,1201.1 L1294.0,1201.2 L1297.0,1201.3 L1300.0,1201.4 L1303.0,1201.5 L1306.0,1201.6 L1309.0,1201.7 L1312.0,1201.8 L1315.0,1201.9 L1318.0,1202.0 L1321.0,1202.1 L1324.0,1202.2 L1327.0,1202.2 L1330.0,1202.3 L1333.0,1202.4 L1336.0,1202.5 L1339.0,1202.6 L1342.0,1202.7 L1345.0,1202.8 L1348.0,1202.9 L1351.0,1202.9 L1354.0,1203.0 L1357.0,1203.1 L1360.0,1203.2 L1363.0,1203.3 L1366.0,1203.3 L1369.0,1203.4 L1372.0,1203.5 L1375.0,1203.6 L1377.9,1203.6 L1380.9,1203.7 L1383.9,1203.8 L1386.9,1203.9 L1389.9,1203.9 L1392.9,1204.0 L1395.9,1204.1 L1398.9,1204.1 L1401.9,1204.2 L1404.9,1204.3 L1407.9,1204.3 L1410.9,1204.4 L1413.9,1204.5 L1416.9,1204.5 L1419.9,1204.6 L1422.9,1204.6 L1425.9,1204.7 L1428.9,1204.8 L1431.9,1204.8 L1434.9,1204.9 L1437.9,1204.9 L1440.9,1205.0 L1443.9,1205.1 L1446.9,1205.1 L1449.9,1205.2 L1452.9,1205.2 L1455.9,1205.3 L1458.9,1205.3 L1461.9,1205.4 L1464.9,1205.4 L1467.9,1205.5 L1470.9,1205.5 L1473.9,1205.6 L1476.9,1205.6 L1479.9,1205.7 L1482.9,1205.7 L1485.9,1205.7 L1488.9,1205.8 L1491.9,1205.8 L1494.9,1205.9 L1497.9,1205.9 L1500.9,1206.0 L1503.9,1206.0 L1506.9,1206.0 L1509.9,1206.1 L1512.9,1206.1 L1515.9,1206.2 L1518.9,1206.2 L1521.9,1206.2 L1524.9,1206.3 L1527.9,1206.3 L1530.9,1206.3 L1533.9,1206.4 L1536.9,1206.4 L1539.9,1206.5 L1542.9,1206.5 L1545.9,1206.5 L1548.9,1206.6 L1551.9,1206.6 L1554.9,1206.6 L1557.9,1206.7 L1560.9,1206.7 L1563.9,1206.7 L1566.9,1206.7 L1569.9,1206.8 L1572.9,1206.8 L1575.9,1206.8 L1578.9,1206.9 L1581.9,1206.9 L1584.9,1206.9 L1587.9,1206.9 L1590.9,1207.0 L1593.9,1207.0 L1596.9,1207.0 L1599.9,1207.0 L1602.9,1207.1 L1605.9,1207.1 L1608.9,1207.1 L1611.9,1207.1 L1614.9,1207.2 L1617.9,1207.2 L1620.9,1207.2 L1623.9,1207.2 L1626.9,1207.3 L1629.9,1207.3 L1632.9,1207.3 L1635.9,1207.3 L1638.9,1207.3 L1641.9,1207.4 L1644.9,1207.4 L1647.9,1207.4 L1650.9,1207.4 L1653.9,1207.4 L1656.9,1207.5 L1659.9,1207.5 L1662.9,1207.5 L1665.9,1207.5 L1668.9,1207.5 L1671.9,1207.6 L1674.9,1207.6 L1677.9,1207.6 L1680.9,1207.6 L1683.9,1207.6 L1686.9,1207.6 L1689.9,1207.6 L1692.9,1207.7 L1695.9,1207.7 L1698.9,1207.7 L1701.9,1207.7 L1704.9,1207.7 L1707.9,1207.7 L1710.9,1207.8 L1713.9,1207.8 L1716.9,1207.8 L1719.9,1207.8 L1722.9,1207.8 L1725.9,1207.8 L1728.9,1207.8 L1731.9,1207.8 L1734.9,1207.9 L1737.9,1207.9 L1740.9,1207.9 L1743.9,1207.9 L1746.9,1207.9 L1749.9,1207.9 L1752.9,1207.9 L1755.9,1207.9 L1758.9,1207.9 L1761.9,1208.0 L1764.9,1208.0 L1767.9,1208.0 L1770.9,1208.0 L1773.9,1208.0 L1776.9,1208.0 L1779.9,1208.0 L1782.9,1208.0 L1785.9,1208.0 L1788.9,1208.1 L1791.9,1208.1 L1794.9,1208.1 L1797.9,1208.1 L1800.9,1208.1 L1803.9,1208.1 L1806.9,1208.1 L1809.9,1208.1 L1812.9,1208.1 L1815.9,1208.1 L1818.9,1208.1 L1821.9,1208.2 L1824.9,1208.2 L1827.9,1208.2 L1830.9,1208.2 L1833.9,1208.2 L1836.9,1208.2 L1839.9,1208.2 L1842.9,1208.2 L1845.9,1208.2 L1848.9,1208.2 L1851.9,1208.2 L1854.9,1208.3 L1857.9,1208.3 L1860.9,1208.3 L1863.9,1208.3 L1866.9,1208.3 L1868.4,1208.3" stroke="#000000"/>
<path d="M220.3,385.0 L221.4,387.8 L222.5,390.6 L223.5,393.4 L224.5,396.2 L225.5,399.1 L226.4,401.9 L227.4,404.8 L228.3,407.6 L229.2,410.5 L230.1,413.3 L231.0,416.2 L231.8,419.1 L232.7,422.0 L233.6,424.8 L234.5,427.7 L235.4,430.6 L236.3,433.4 L237.2,436.3 L238.1,439.1 L239.0,442.0 L240.0,444.8 L240.9,447.7 L241.8,450.5 L242.8,453.4 L243.7,456.2 L244.7,459.1 L245.6,461.9 L246.6,464.8 L247.5,467.6 L248.5,470.5 L249.5,473.3 L250.4,476.1 L251.4,479.0 L252.4,481.8 L253.3,484.7 L254.3,487.5 L255.3,490.3 L256.2,493.2 L257.2,496.0 L258.1,498.9 L259.1,501.7 L260.0,504.6 L261.0,507.4 L261.9,510.2 L262.9,513.1 L263.8,515.9 L264.8,518.8 L265.7,521.6 L266.6,524.5 L267.6,527.3 L268.5,530.2 L269.5,533.0 L270.4,535.9 L271.3,538.7 L272.3,541.6 L273.2,544.4 L274.1,547.3 L275.0,550.2 L276.0,553.0 L276.9,555.9 L277.8,558.7 L278.8,561.6 L279.7,564.4 L280.6,567.3 L281.5,570.1 L282.5,573.0 L283.4,575.8 L284.3,578.7 L285.2,581.5 L286.2,584.4 L287.1,587.2 L288.0,590.1 L289.0,593.0 L289.9,595.8 L290.8,598.7 L291.7,601.5 L292.7,604.4 L293.6,607.2 L294.5,610.1 L295.5,612.9 L296.4,615.8 L297.4,618.6 L298.3,621.5 L299.2,624.3 L300.2,627.2 L301.1,630.0 L302.1,632.8 L303.0,635.7 L304.0,638.5 L304.9,641.4 L305.9,644.2 L306.8,647.1 L307.8,649.9 L308.7,652.8 L309.7,655.6 L310.7,658.4 L311.6,661.3 L312.6,664.1 L313.6,667.0 L314.5,669.8 L315.5,672.6 L316.5,675.5 L317.5,678.3 L318.4,681.1 L319.4,684.0 L320.4,686.8 L321.4,689.6 L322.4,692.5 L323.4,695.3 L324.4,698.1 L325.5,700.9 L326.5,703.8 L327.5,706.6 L328.6,709.4 L329.6,712.2 L330.6,715.0 L331.7,717.8 L332.8,720.6 L333.8,723.4 L334.9,726.2 L335.9,729.1 L337.0,731.9 L338.1,734.7 L339.1,737.5 L340.2,740.3 L341.3,743.1 L342.4,745.9 L343.4,748.7 L344.5,751.5 L345.6,754.3 L346.7,757.1 L347.8,759.9 L348.9,762.7 L350.0,765.5 L351.1,768.2 L352.2,771.0 L353.3,773.8 L354.4,776.6 L355.5,779.4 L356.6,782.2 L357.7,785.0 L358.9,787.7 L360.0,790.5 L361.1,793.3 L362.3,796.1 L363.4,798.8 L364.6,801.6 L365.8,804.4 L366.9,807.1 L368.1,809.9 L369.3,812.6 L370.4,815.4 L371.6,818.2 L372.8,820.9 L374.0,823.7 L375.2,826.4 L376.4,829.2 L377.6,831.9 L378.9,834.7 L380.1,837.4 L381.3,840.1 L382.5,842.9 L383.8,845.6 L385.0,848.3 L386.3,851.1 L387.5,853.8 L388.8,856.5 L390.0,859.2 L391.3,862.0 L392.6,864.7 L393.8,867.4 L395.1,870.1 L396.4,872.8 L397.7,875.5 L399.0,878.2 L400.4,880.9 L401.7,883.6 L403.0,886.3 L404.3,889.0 L405.7,891.7 L407.0,894.3 L408.4,897.0 L409.7,899.7 L411.1,902.4 L412.4,905.0 L413.8,907.7 L415.2,910.4 L416.6,913.0 L418.0,915.7 L419.4,918.3 L420.8,921.0 L422.3,923.6 L423.7,926.2 L425.2,928.8 L426.7,931.4 L428.2,934.0 L429.7,936.6 L431.2,939.2 L432.8,941.8 L434.3,944.4 L435.9,946.9 L437.4,949.5 L439.0,952.0 L440.6,954.6 L442.2,957.1 L443.8,959.7 L445.4,962.2 L447.0,964.8 L448.6,967.3 L450.2,969.8 L451.8,972.4 L453.4,974.9 L455.1,977.4 L456.7,979.9 L458.4,982.4 L460.0,984.9 L461.7,987.4 L463.5,989.8 L465.2,992.3 L466.9,994.7 L468.7,997.1 L470.5,999.5 L472.4,1001.9 L474.2,1004.3 L476.1,1006.6 L478.0,1008.9 L479.9,1011.2 L481.9,1013.5 L483.9,1015.8 L485.9,1018.0 L487.9,1020.2 L490.0,1022.4 L492.1,1024.5 L494.2,1026.6 L496.4,1028.7 L498.5,1030.8 L500.7,1032.8 L503.0,1034.9 L505.2,1036.9 L507.5,1038.8 L509.7,1040.8 L512.0,1042.7 L514.3,1044.6 L516.7,1046.5 L519.0,1048.4 L521.3,1050.3 L523.7,1052.1 L526.1,1054.0 L528.5,1055.8 L530.9,1057.6 L533.3,1059.4 L535.7,1061.1 L538.2,1062.9 L540.6,1064.6 L543.1,1066.3 L545.6,1068.0 L548.0,1069.7 L550.6,1071.4 L553.1,1073.0 L555.6,1074.6 L558.1,1076.2 L560.7,1077.8 L563.3,1079.3 L565.9,1080.8 L568.5,1082.2 L571.1,1083.7 L573.8,1085.1 L576.5,1086.4 L579.2,1087.7 L581.9,1089.0 L584.6,1090.3 L587.4,1091.5 L590.1,1092.7 L592.9,1093.9 L595.6,1095.1 L598.4,1096.2 L601.2,1097.4 L603.9,1098.5 L606.7,1099.7 L609.5,1100.8 L612.3,1102.0 L615.0,1103.1 L617.8,1104.3 L620.6,1105.4 L623.4,1106.5 L626.1,1107.7 L628.9,1108.8 L631.7,1109.9 L634.5,1111.0 L637.3,1112.1 L640.1,1113.3 L642.8,1114.4 L645.6,1115.5 L648.4,1116.5 L651.2,1117.6 L654.0,1118.7 L656.8,1119.8 L659.6,1120.8 L662.4,1121.9 L665.3,1122.9 L668.1,1124.0 L670.9,1125.0 L673.7,1126.0 L676.5,1127.0 L679.4,1128.0 L682.2,1129.0 L685.1,1129.9 L687.9,1130.9 L690.8,1131.8 L693.6,1132.7 L696.5,1133.6 L699.4,1134.5 L702.2,1135.3 L705.1,1136.2 L708.0,1137.0 L710.9,1137.8 L713.8,1138.6 L716.7,1139.3 L719.6,1140.1 L722.5,1140.8 L725.4,1141.5 L728.3,1142.2 L731.3,1142.9 L734.2,1143.6 L737.1,1144.3 L740.0,1145.0 L742.9,1145.7 L745.9,1146.4 L748.8,1147.0 L751.7,1147.7 L754.6,1148.4 L757.6,1149.0 L760.5,1149.7 L763.4,1150.3 L766.4,1150.9 L769.3,1151.5 L772.3,1152.0 L775.2,1152.6 L778.2,1153.1 L781.1,1153.6 L784.1,1154.0 L787.1,1154.5 L790.0,1154.9 L793.0,1155.3 L796.0,1155.7 L798.9,1156.1 L801.9,1156.5 L804.9,1156.9 L807.9,1157.3 L810.8,1157.7 L813.8,1158.1 L816.8,1158.5 L819.8,1158.9 L822.7,1159.3 L825.7,1159.7 L828.7,1160.1 L831.7,1160.6 L834.6,1161.1 L837.6,1161.6 L840.5,1162.1 L843.5,1162.6 L846.4,1163.2 L849.4,1163.8 L852.3,1164.4 L855.2,1165.0 L858.2,1165.6 L861.1,1166.3 L864.0,1166.9 L867.0,1167.6 L869.9,1168.2 L872.8,1168.8 L875.8,1169.4 L878.7,1169.9 L881.7,1170.5 L884.6,1171.0 L887.6,1171.5 L890.5,1172.0 L893.5,1172.5 L896.4,1173.0 L899.4,1173.4 L902.4,1173.8 L905.3,1174.3 L908.3,1174.7 L911.3,1175.1 L914.2,1175.4 L917.2,1175.8 L920.2,1176.2 L923.2,1176.5 L926.2,1176.8 L929.1,1177.1 L932.1,1177.5 L935.1,1177.7 L938.1,1178.0 L941.1,1178.3 L944.1,1178.6 L947.1,1178.8 L950.1,1179.1 L953.1,1179.3 L956.1,1179.6 L959.1,1179.8 L962.1,1180.0 L965.1,1180.3 L968.1,1180.5 L971.1,1180.7 L974.1,1180.9 L977.1,1181.1 L980.1,1181.3 L983.1,1181.5 L986.1,1181.7 L989.1,1181.9 L992.1,1182.1 L995.1,1182.2 L998.1,1182.4 L1001.1,1182.6 L1004.1,1182.8 L1007.1,1183.0 L1010.1,1183.2 L1013.1,1183.4 L1016.1,1183.6 L1019.1,1183.8 L1022.1,1183.9 L1025.1,1184.1 L1028.1,1184.3 L1031.1,1184.6 L1034.1,1184.8 L1037.1,1185.0 L1040.1,1185.2 L1043.1,1185.4 L1046.1,1185.6 L1049.1,1185.8 L1052.1,1186.0 L1055.0,1186.3 L1058.0,1186.5 L1061.0,1186.7 L1064.0,1186.9 L1067.0,1187.2 L1070.0,1187.4 L1073.0,1187.6 L1076.0,1187.8 L1079.0,1188.1 L1082.0,1188.3 L1085.0,1188.5 L1088.0,1188.7 L1091.0,1189.0 L1093.9,1189.2 L1096.9,1189.4 L1099.9,1189.7 L1102.9,1189.9 L1105.9,1190.1 L1108.9,1190.4 L1111.9,1190.6 L1114.9,1190.8 L1117.9,1191.0 L1120.8,1191.3 L1123.8,1191.5 L1126.8,1191.7 L1129.8,1191.9 L1132.8,1192.2 L1135.8,1192.4 L1138.8,1192.6 L1141.8,1192.8 L1144.8,1193.0 L1147.8,1193.2 L1150.7,1193.4 L1153.7,1193.6 L1156.7,1193.9 L1159.7,1194.1 L1162.7,1194.3 L1165.7,1194.5 L1168.7,1194.6 L1171.7,1194.8 L1174.7,1195.0 L1177.7,1195.2 L1180.7,1195.4 L1183.7,1195.6 L1186.6,1195.8 L1189.6,1195.9 L1192.6,1196.1 L1195.6,1196.3 L1198.6,1196.4 L1201.6,1196.6 L1204.6,1196.8 L1207.6,1196.9 L1210.6,1197.1 L1213.6,1197.2 L1216.6,1197.4 L1219.6,1197.5 L1222.6,1197.7 L1225.6,1197.8 L1228.6,1198.0 L1231.6,1198.1 L1234.6,1198.3 L1237.6,1198.4 L1240.6,1198.5 L1243.6,1198.7 L1246.6,1198.8 L1249.6,1198.9 L1252.6,1199.1 L1255.6,1199.2 L1258.6,1199.3 L1261.6,1199.4 L1264.6,1199.6 L1267.6,1199.7 L1270.5,1199.8 L1273.5,1199.9 L1276.5,1200.0 L1279.5,1200.1 L1282.5,1200.2 L1285.5,1200.4 L1288.5,1200.5 L1291.5,1200.6 L1294.5,1200.7 L1297.5,1200.8 L1300.5,1200.9 L1303.5,1201.0 L1306.5,1201.1 L1309.5,1201.2 L1312.5,1201.3 L1315.5,1201.4 L1318.5,1201.5 L1321.5,1201.6 L1324.5,1201.7 L1327.5,1201.8 L1330.5,1201.9 L1333.5,1202.0 L1336.5,1202.0 L1339.5,1202.1 L1342.5,1202.2 L1345.5,1202.3 L1348.5,1202.4 L1351.5,1202.5 L1354.5,1202.6 L1357.5,1202.7 L1360.5,1202.7 L1363.5,1202.8 L1366.5,1202.9 L1369.5,1203.0 L1372.5,1203.1 L1375.5,1203.1 L1378.5,1203.2 L1381.5,1203.3 L1384.5,1203.4 L1387.5,1203.5 L1390.5,1203.5 L1393.5,1203.6 L1396.5,1203.7 L1399.5,1203.7 L1402.5,1203.8 L1405.5,1203.9 L1408.5,1204.0 L1411.5,1204.0 L1414.5,1204.1 L1417.5,1204.2 L1420.5,1204.2 L1423.5,1204.3 L1426.5,1204.4 L1429.5,1204.4 L1432.5,1204.5 L1435.5,1204.6 L1438.5,1204.6 L1441.5,1204.7 L1444.5,1204.7 L1447.5,1204.8 L1450.5,1204.9 L1453.5,1204.9 L1456.5,1205.0 L1459.5,1205.0 L1462.5,1205.1 L1465.5,1205.1 L1468.5,1205.2 L1471.5,1205.2 L1474.5,1205.3 L1477.5,1205.4 L1480.5,1205.4 L1483.5,1205.5 L1486.5,1205.5 L1489.5,1205.6 L1492.5,1205.6 L1495.5,1205.6 L1498.5,1205.7 L1501.5,1205.7 L1504.5,1205.8 L1507.5,1205.8 L1510.5,1205.9 L1513.5,1205.9 L1516.5,1206.0 L1519.5,1206.0 L1522.5,1206.0 L1525.5,1206.1 L1528.5,1206.1 L1531.5,1206.2 L1534.5,1206.2 L1537.5,1206.2 L1540.5,1206.3 L1543.5,1206.3 L1546.5,1206.4 L1549.5,1206.4 L1552.5,1206.4 L1555.5,1206.5 L1558.5,1206.5 L1561.5,1206.5 L1564.5,1206.6 L1567.5,1206.6 L1570.5,1206.6 L1573.5,1206.7 L1576.5,1206.7 L1579.5,1206.7 L1582.5,1206.8 L1585.5,1206.8 L1588.5,1206.8 L1591.5,1206.8 L1594.5,1206.9 L1597.5,1206.9 L1600.5,1206.9 L1603.5,1207.0 L1606.5,1207.0 L1609.5,1207.0 L1612.5,1207.0 L1615.5,1207.1 L1618.5,1207.1 L1621.5,1207.1 L1624.5,1207.1 L1627.5,1207.1 L1630.5,1207.2 L1633.5,1207.2 L1636.5,1207.2 L1639.5,1207.2 L1642.5,1207.3 L1645.5,1207.3 L1648.5,1207.3 L1651.5,1207.3 L1654.5,1207.3 L1657.5,1207.4 L1660.5,1207.4 L1663.5,1207.4 L1666.5,1207.4 L1669.5,1207.4 L1672.5,1207.4 L1675.5,1207.5 L1678.5,1207.5 L1681.5,1207.5 L1684.5,1207.5 L1687.5,1207.5 L1690.5,1207.6 L1693.5,1207.6 L1696.5,1207.6 L1699.5,1207.6 L1702.5,1207.6 L1705.5,1207.6 L1708.5,1207.6 L1711.5,1207.7 L1714.5,1207.7 L1717.5,1207.7 L1720.5,1207.7 L1723.5,1207.7 L1726.5,1207.7 L1729.5,1207.7 L1732.5,1207.8 L1735.5,1207.8 L1738.5,1207.8 L1741.5,1207.8 L1744.5,1207.8 L1747.5,1207.8 L1750.5,1207.8 L1753.5,1207.8 L1756.5,1207.9 L1759.5,1207.9 L1762.5,1207.9 L1765.5,1207.9 L1768.5,1207.9 L1771.5,1207.9 L1774.5,1207.9 L1777.5,1207.9 L1780.5,1207.9 L1783.5,1208.0 L1786.5,1208.0 L1789.5,1208.0 L1792.5,1208.0 L1795.5,1208.0 L1798.5,1208.0 L1801.5,1208.0 L1804.5,1208.0 L1807.5,1208.1 L1810.5,1208.1 L1813.5,1208.1 L1816.5,1208.1 L1819.5,1208.1 L1822.5,1208.1 L1825.5,1208.1 L1828.5,1208.1 L1831.5,1208.1 L1834.5,1208.2 L1837.5,1208.2 L1840.5,1208.2 L1843.5,1208.2 L1846.5,1208.2 L1849.5,1208.2 L1852.5,1208.2 L1855.5,1208.2 L1858.5,1208.3 L1861.5,1208.3 L1864.5,1208.3 L1867.5,1208.3 L1868.4,1208.3" stroke="#0000ff" stroke-dasharray="18,18" pathLength="2116.4"/>
<path d="M220.3,317.8 L221.2,320.7 L222.1,323.5 L223.0,326.4 L223.8,329.3 L224.7,332.1 L225.6,335.0 L226.4,337.9 L227.3,340.8 L228.1,343.6 L229.0,346.5 L229.9,349.4 L230.7,352.3 L231.6,355.1 L232.4,358.0 L233.3,360.9 L234.1,363.8 L235.0,366.6 L235.8,369.5 L236.7,372.4 L237.6,375.3 L238.4,378.1 L239.3,381.0 L240.2,383.9 L241.1,386.7 L242.0,389.6 L242.9,392.5 L243.8,395.3 L244.7,398.2 L245.6,401.0 L246.5,403.9 L247.4,406.7 L248.4,409.6 L249.3,412.4 L250.3,415.3 L251.2,418.1 L252.1,421.0 L253.1,423.8 L254.0,426.7 L254.9,429.5 L255.9,432.4 L256.8,435.3 L257.7,438.1 L258.6,441.0 L259.5,443.8 L260.5,446.7 L261.4,449.5 L262.3,452.4 L263.2,455.3 L264.1,458.1 L265.0,461.0 L265.9,463.8 L266.9,466.7 L267.8,469.5 L268.7,472.4 L269.6,475.2 L270.6,478.1 L271.5,480.9 L272.5,483.8 L273.4,486.6 L274.3,489.5 L275.3,492.3 L276.2,495.2 L277.2,498.0 L278.2,500.9 L279.1,503.7 L280.1,506.5 L281.0,509.4 L282.0,512.2 L283.0,515.1 L284.0,517.9 L284.9,520.7 L285.9,523.6 L286.9,526.4 L287.9,529.2 L288.8,532.1 L289.8,534.9 L290.8,537.7 L291.8,540.6 L292.8,543.4 L293.8,546.2 L294.8,549.1 L295.8,551.9 L296.8,554.7 L297.8,557.6 L298.8,560.4 L299.8,563.2 L300.8,566.0 L301.8,568.9 L302.9,571.7 L303.9,574.5 L304.9,577.3 L305.9,580.2 L306.9,583.0 L307.9,585.8 L309.0,588.6 L310.0,591.4 L311.0,594.3 L312.0,597.1 L313.1,599.9 L314.1,602.7 L315.1,605.5 L316.2,608.3 L317.2,611.2 L318.2,614.0 L319.3,616.8 L320.3,619.6 L321.3,622.4 L322.3,625.3 L323.4,628.1 L324.4,630.9 L325.4,633.7 L326.3,636.6 L327.3,639.4 L328.3,642.3 L329.2,645.1 L330.1,648.0 L331.1,650.8 L332.0,653.7 L332.8,656.6 L333.7,659.4 L334.5,662.3 L335.3,665.2 L336.1,668.1 L336.9,671.0 L337.6,673.9 L338.4,676.8 L339.1,679.8 L339.9,682.7 L340.7,685.6 L341.5,688.4 L342.4,691.3 L343.2,694.2 L344.2,697.0 L345.2,699.8 L346.2,702.6 L347.4,705.4 L348.5,708.2 L349.8,710.9 L351.0,713.6 L352.3,716.3 L353.6,719.0 L354.9,721.7 L356.3,724.4 L357.6,727.1 L358.9,729.8 L360.2,732.6 L361.5,735.3 L362.7,738.0 L363.9,740.8 L365.1,743.5 L366.2,746.3 L367.4,749.1 L368.5,751.9 L369.6,754.6 L370.7,757.4 L371.7,760.3 L372.8,763.1 L373.8,765.9 L374.8,768.7 L375.9,771.5 L376.9,774.3 L377.9,777.2 L378.9,780.0 L379.9,782.8 L381.0,785.6 L382.0,788.5 L383.1,791.3 L384.1,794.1 L385.2,796.9 L386.3,799.6 L387.5,802.4 L388.6,805.2 L389.8,807.9 L391.1,810.7 L392.3,813.4 L393.6,816.1 L394.8,818.8 L396.1,821.5 L397.4,824.2 L398.7,826.9 L400.0,829.7 L401.3,832.4 L402.6,835.1 L403.9,837.8 L405.1,840.5 L406.4,843.2 L407.6,846.0 L408.9,848.7 L410.1,851.4 L411.4,854.2 L412.6,856.9 L413.9,859.6 L415.1,862.3 L416.4,865.0 L417.7,867.8 L419.0,870.5 L420.3,873.2 L421.6,875.9 L422.9,878.6 L424.2,881.3 L425.6,883.9 L426.9,886.6 L428.3,889.3 L429.6,892.0 L431.0,894.6 L432.4,897.3 L433.8,900.0 L435.1,902.6 L436.5,905.3 L437.9,907.9 L439.3,910.6 L440.8,913.2 L442.2,915.9 L443.6,918.5 L445.0,921.2 L446.4,923.8 L447.9,926.5 L449.3,929.1 L450.7,931.7 L452.2,934.4 L453.6,937.0 L455.1,939.6 L456.5,942.2 L458.0,944.8 L459.5,947.5 L461.0,950.1 L462.5,952.6 L464.0,955.2 L465.6,957.8 L467.1,960.4 L468.7,962.9 L470.3,965.4 L471.9,968.0 L473.6,970.5 L475.2,973.0 L476.9,975.5 L478.5,978.0 L480.2,980.5 L481.9,983.0 L483.6,985.5 L485.3,987.9 L487.0,990.4 L488.7,992.9 L490.3,995.4 L492.0,997.8 L493.7,1000.3 L495.4,1002.8 L497.2,1005.2 L498.9,1007.7 L500.6,1010.1 L502.4,1012.6 L504.1,1015.0 L505.9,1017.4 L507.7,1019.8 L509.5,1022.2 L511.3,1024.6 L513.2,1027.0 L515.0,1029.3 L516.9,1031.7 L518.9,1034.0 L520.8,1036.3 L522.8,1038.5 L524.8,1040.8 L526.8,1043.0 L528.9,1045.1 L531.0,1047.3 L533.1,1049.4 L535.3,1051.5 L537.5,1053.5 L539.7,1055.5 L542.0,1057.5 L544.2,1059.5 L546.5,1061.4 L548.8,1063.3 L551.2,1065.2 L553.5,1067.1 L555.9,1069.0 L558.2,1070.8 L560.6,1072.7 L563.0,1074.5 L565.4,1076.4 L567.8,1078.2 L570.2,1080.0 L572.6,1081.7 L575.1,1083.5 L577.5,1085.2 L580.0,1086.8 L582.5,1088.5 L585.1,1090.0 L587.6,1091.6 L590.2,1093.1 L592.9,1094.5 L595.5,1095.9 L598.2,1097.3 L600.9,1098.6 L603.6,1099.9 L606.3,1101.2 L609.0,1102.4 L611.8,1103.7 L614.5,1104.9 L617.2,1106.2 L620.0,1107.4 L622.7,1108.7 L625.4,1110.0 L628.1,1111.2 L630.8,1112.5 L633.6,1113.8 L636.3,1115.0 L639.0,1116.3 L641.7,1117.6 L644.4,1118.8 L647.2,1120.1 L649.9,1121.3 L652.6,1122.6 L655.4,1123.8 L658.1,1125.0 L660.9,1126.1 L663.7,1127.3 L666.4,1128.4 L669.2,1129.5 L672.0,1130.6 L674.8,1131.7 L677.7,1132.7 L680.5,1133.7 L683.3,1134.7 L686.2,1135.6 L689.0,1136.5 L691.9,1137.4 L694.8,1138.2 L697.7,1139.0 L700.6,1139.8 L703.5,1140.6 L706.4,1141.3 L709.3,1142.1 L712.2,1142.8 L715.1,1143.6 L718.0,1144.3 L720.9,1145.0 L723.8,1145.8 L726.7,1146.5 L729.7,1147.2 L732.6,1148.0 L735.5,1148.7 L738.4,1149.5 L741.3,1150.2 L744.2,1150.9 L747.1,1151.6 L750.0,1152.3 L752.9,1153.0 L755.9,1153.7 L758.8,1154.4 L761.7,1155.1 L764.6,1155.7 L767.6,1156.3 L770.5,1157.0 L773.4,1157.6 L776.4,1158.2 L779.3,1158.8 L782.2,1159.5 L785.2,1160.1 L788.1,1160.7 L791.1,1161.3 L794.0,1161.8 L796.9,1162.4 L799.9,1163.0 L802.8,1163.6 L805.8,1164.2 L808.7,1164.7 L811.7,1165.3 L814.6,1165.8 L817.6,1166.3 L820.5,1166.8 L823.5,1167.3 L826.5,1167.7 L829.4,1168.2 L832.4,1168.6 L835.4,1169.0 L838.4,1169.3 L841.3,1169.7 L844.3,1170.0 L847.3,1170.3 L850.3,1170.7 L853.3,1171.0 L856.3,1171.3 L859.2,1171.6 L862.2,1171.9 L865.2,1172.2 L868.2,1172.5 L871.2,1172.9 L874.2,1173.2 L877.2,1173.5 L880.1,1173.8 L883.1,1174.2 L886.1,1174.5 L889.1,1174.8 L892.1,1175.1 L895.1,1175.5 L898.0,1175.8 L901.0,1176.1 L904.0,1176.5 L907.0,1176.8 L910.0,1177.1 L912.9,1177.5 L915.9,1177.8 L918.9,1178.1 L921.9,1178.5 L924.9,1178.8 L927.9,1179.1 L930.8,1179.5 L933.8,1179.8 L936.8,1180.1 L939.8,1180.5 L942.8,1180.8 L945.7,1181.1 L948.7,1181.4 L951.7,1181.8 L954.7,1182.1 L957.7,1182.4 L960.7,1182.7 L963.6,1183.0 L966.6,1183.4 L969.6,1183.7 L972.6,1184.0 L975.6,1184.3 L978.6,1184.6 L981.5,1184.9 L984.5,1185.2 L987.5,1185.5 L990.5,1185.8 L993.5,1186.1 L996.5,1186.4 L999.4,1186.7 L1002.4,1186.9 L1005.4,1187.2 L1008.4,1187.5 L1011.4,1187.8 L1014.4,1188.0 L1017.4,1188.3 L1020.4,1188.5 L1023.3,1188.8 L1026.3,1189.0 L1029.3,1189.3 L1032.3,1189.5 L1035.3,1189.8 L1038.3,1190.0 L1041.3,1190.2 L1044.3,1190.4 L1047.3,1190.7 L1050.3,1190.9 L1053.3,1191.1 L1056.2,1191.3 L1059.2,1191.5 L1062.2,1191.7 L1065.2,1191.9 L1068.2,1192.1 L1071.2,1192.3 L1074.2,1192.5 L1077.2,1192.7 L1080.2,1192.8 L1083.2,1193.0 L1086.2,1193.2 L1089.2,1193.4 L1092.2,1193.5 L1095.2,1193.7 L1098.2,1193.9 L1101.2,1194.0 L1104.2,1194.2 L1107.2,1194.4 L1110.2,1194.5 L1113.1,1194.7 L1116.1,1194.8 L1119.1,1195.0 L1122.1,1195.1 L1125.1,1195.3 L1128.1,1195.4 L1131.1,1195.5 L1134.1,1195.7 L1137.1,1195.8 L1140.1,1195.9 L1143.1,1196.1 L1146.1,1196.2 L1149.1,1196.3 L1152.1,1196.5 L1155.1,1196.6 L1158.1,1196.7 L1161.1,1196.9 L1164.1,1197.0 L1167.1,1197.1 L1170.1,1197.2 L1173.1,1197.3 L1176.1,1197.5 L1179.1,1197.6 L1182.1,1197.7 L1185.1,1197.8 L1188.1,1197.9 L1191.1,1198.1 L1194.1,1198.2 L1197.1,1198.3 L1200.1,1198.4 L1203.1,1198.5 L1206.1,1198.6 L1209.1,1198.7 L1212.1,1198.9 L1215.1,1199.0 L1218.1,1199.1 L1221.1,1199.2 L1224.1,1199.3 L1227.1,1199.4 L1230.1,1199.5 L1233.1,1199.6 L1236.1,1199.7 L1239.1,1199.8 L1242.1,1199.9 L1245.1,1200.0 L1248.1,1200.1 L1251.1,1200.2 L1254.1,1200.3 L1257.1,1200.4 L1260.1,1200.5 L1263.0,1200.6 L1266.0,1200.7 L1269.0,1200.8 L1272.0,1200.9 L1275.0,1201.0 L1278.0,1201.1 L1281.0,1201.2 L1284.0,1201.3 L1287.0,1201.4 L1290.0,1201.5 L1293.0,1201.6 L1296.0,1201.6 L1299.0,1201.7 L1302.0,1201.8 L1305.0,1201.9 L1308.0,1202.0 L1311.0,1202.1 L1314.0,1202.2 L1317.0,1202.2 L1320.0,1202.3 L1323.0,1202.4 L1326.0,1202.5 L1329.0,1202.6 L1332.0,1202.6 L1335.0,1202.7 L1338.0,1202.8 L1341.0,1202.9 L1344.0,1203.0 L1347.0,1203.0 L1350.0,1203.1 L1353.0,1203.2 L1356.0,1203.2 L1359.0,1203.3 L1362.0,1203.4 L1365.0,1203.5 L1368.0,1203.5 L1371.0,1203.6 L1374.0,1203.7 L1377.0,1203.7 L1380.0,1203.8 L1383.0,1203.9 L1386.0,1203.9 L1389.0,1204.0 L1392.0,1204.1 L1395.0,1204.1 L1398.0,1204.2 L1401.0,1204.3 L1404.0,1204.3 L1407.0,1204.4 L1410.0,1204.4 L1413.0,1204.5 L1416.0,1204.6 L1419.0,1204.6 L1422.0,1204.7 L1425.0,1204.7 L1428.0,1204.8 L1431.0,1204.8 L1434.0,1204.9 L1437.0,1204.9 L1440.0,1205.0 L1443.0,1205.0 L1446.0,1205.1 L1449.0,1205.2 L1452.0,1205.2 L1455.0,1205.3 L1458.0,1205.3 L1461.0,1205.4 L1464.0,1205.4 L1467.0,1205.5 L1470.0,1205.5 L1473.0,1205.5 L1476.0,1205.6 L1479.0,1205.6 L1482.0,1205.7 L1485.0,1205.7 L1488.0,1205.8 L1491.0,1205.8 L1494.0,1205.9 L1497.0,1205.9 L1500.0,1205.9 L1503.0,1206.0 L1506.0,1206.0 L1509.0,1206.1 L1512.0,1206.1 L1515.0,1206.1 L1518.0,1206.2 L1521.0,1206.2 L1524.0,1206.3 L1527.0,1206.3 L1530.0,1206.3 L1533.0,1206.4 L1536.0,1206.4 L1539.0,1206.4 L1542.0,1206.5 L1545.0,1206.5 L1548.0,1206.6 L1551.0,1206.6 L1554.0,1206.6 L1557.0,1206.7 L1560.0,1206.7 L1563.0,1206.7 L1566.0,1206.8 L1569.0,1206.8 L1572.0,1206.8 L1575.0,1206.8 L1578.0,1206.9 L1581.0,1206.9 L1584.0,1206.9 L1587.0,1207.0 L1590.0,1207.0 L1593.0,1207.0 L1596.0,1207.0 L1599.0,1207.1 L1602.0,1207.1 L1605.0,1207.1 L1608.0,1207.2 L1611.0,1207.2 L1614.0,1207.2 L1617.0,1207.2 L1620.0,1207.3 L1623.0,1207.3 L1626.0,1207.3 L1629.0,1207.3 L1632.0,1207.4 L1635.0,1207.4 L1638.0,1207.4 L1641.0,1207.4 L1644.0,1207.4 L1647.0,1207.5 L1650.0,1207.5 L1653.0,1207.5 L1656.0,1207.5 L1659.0,1207.6 L1662.0,1207.6 L1665.0,1207.6 L1668.0,1207.6 L1671.0,1207.6 L1674.0,1207.6 L1677.0,1207.7 L1680.0,1207.7 L1683.0,1207.7 L1686.0,1207.7 L1689.0,1207.7 L1692.0,1207.8 L1695.0,1207.8 L1698.0,1207.8 L1701.0,1207.8 L1704.0,1207.8 L1707.0,1207.8 L1710.0,1207.9 L1713.0,1207.9 L1716.0,1207.9 L1719.0,1207.9 L1722.0,1207.9 L1725.0,1207.9 L1728.0,1207.9 L1731.0,1208.0 L1734.0,1208.0 L1737.0,1208.0 L1740.0,1208.0 L1743.0,1208.0 L1746.0,1208.0 L1749.0,1208.0 L1752.0,1208.0 L1755.0,1208.1 L1758.0,1208.1 L1761.0,1208.1 L1764.0,1208.1 L1767.0,1208.1 L1770.0,1208.1 L1773.0,1208.1 L1776.0,1208.1 L1779.0,1208.1 L1782.0,1208.2 L1785.0,1208.2 L1788.0,1208.2 L1791.0,1208.2 L1794.0,1208.2 L1797.0,1208.2 L1800.0,1208.2 L1803.0,1208.2 L1806.0,1208.2 L1809.0,1208.2 L1812.0,1208.3 L1815.0,1208.3 L1818.0,1208.3 L1821.0,1208.3 L1824.0,1208.3 L1827.0,1208.3 L1830.0,1208.3 L1833.0,1208.3 L1836.0,1208.3 L1839.0,1208.3 L1842.0,1208.3 L1845.0,1208.3 L1848.0,1208.4 L1851.0,1208.4 L1854.0,1208.4 L1857.0,1208.4 L1860.0,1208.4 L1863.0,1208.4 L1866.0,1208.4 L1868.4,1208.4" stroke="#ff0000" stroke-dasharray="18,18" pathLength="2171.9"/>
<path d="M220.3,376.0 L221.2,378.9 L222.1,381.7 L223.1,384.6 L224.0,387.4 L224.9,390.3 L225.8,393.1 L226.7,396.0 L227.6,398.9 L228.5,401.7 L229.4,404.6 L230.3,407.4 L231.2,410.3 L232.1,413.2 L233.0,416.0 L233.9,418.9 L234.7,421.8 L235.6,424.6 L236.5,427.5 L237.4,430.4 L238.3,433.2 L239.2,436.1 L240.1,439.0 L241.0,441.8 L241.8,444.7 L242.7,447.6 L243.6,450.4 L244.5,453.3 L245.4,456.2 L246.3,459.0 L247.2,461.9 L248.1,464.8 L249.0,467.6 L249.9,470.5 L250.8,473.3 L251.7,476.2 L252.7,479.0 L253.6,481.9 L254.5,484.7 L255.4,487.6 L256.4,490.5 L257.3,493.3 L258.2,496.1 L259.2,499.0 L260.1,501.8 L261.1,504.7 L262.0,507.5 L263.0,510.4 L264.0,513.2 L264.9,516.0 L265.9,518.9 L266.8,521.7 L267.8,524.6 L268.8,527.4 L269.7,530.2 L270.7,533.1 L271.6,535.9 L272.6,538.8 L273.5,541.6 L274.5,544.5 L275.5,547.3 L276.4,550.1 L277.4,553.0 L278.3,555.8 L279.2,558.7 L280.2,561.5 L281.1,564.4 L282.0,567.2 L283.0,570.1 L283.9,573.0 L284.8,575.8 L285.7,578.7 L286.6,581.6 L287.5,584.4 L288.4,587.3 L289.3,590.2 L290.1,593.0 L291.0,595.9 L291.9,598.8 L292.7,601.7 L293.6,604.6 L294.5,607.4 L295.4,610.3 L296.2,613.2 L297.1,616.1 L298.0,618.9 L298.9,621.8 L299.9,624.6 L300.8,627.5 L301.8,630.3 L302.8,633.2 L303.8,636.0 L304.8,638.8 L305.8,641.6 L306.9,644.4 L308.0,647.2 L309.2,650.0 L310.4,652.7 L311.6,655.5 L312.8,658.2 L314.1,660.9 L315.4,663.6 L316.8,666.3 L318.1,669.0 L319.4,671.7 L320.8,674.4 L322.1,677.1 L323.4,679.8 L324.6,682.5 L325.8,685.3 L327.0,688.0 L328.0,690.8 L329.0,693.6 L330.0,696.5 L330.9,699.3 L331.7,702.2 L332.6,705.1 L333.4,708.0 L334.2,710.9 L335.0,713.8 L335.9,716.7 L336.7,719.5 L337.7,722.4 L338.6,725.2 L339.7,728.0 L340.8,730.8 L341.9,733.6 L343.1,736.3 L344.3,739.1 L345.6,741.8 L346.9,744.5 L348.2,747.2 L349.5,749.9 L350.8,752.6 L352.1,755.4 L353.4,758.1 L354.7,760.8 L356.0,763.5 L357.3,766.2 L358.5,768.9 L359.8,771.7 L361.0,774.4 L362.3,777.1 L363.5,779.8 L364.8,782.6 L366.0,785.3 L367.3,788.0 L368.5,790.7 L369.8,793.4 L371.1,796.2 L372.4,798.9 L373.7,801.6 L375.0,804.3 L376.3,807.0 L377.6,809.7 L378.9,812.4 L380.2,815.1 L381.5,817.8 L382.9,820.4 L384.2,823.1 L385.6,825.8 L386.9,828.5 L388.3,831.2 L389.6,833.9 L391.0,836.5 L392.4,839.2 L393.7,841.9 L395.1,844.5 L396.5,847.2 L397.9,849.8 L399.4,852.5 L400.8,855.1 L402.2,857.7 L403.7,860.3 L405.1,863.0 L406.6,865.6 L408.1,868.2 L409.6,870.8 L411.1,873.4 L412.6,876.0 L414.1,878.6 L415.6,881.2 L417.1,883.8 L418.6,886.4 L420.1,889.0 L421.6,891.6 L423.1,894.2 L424.6,896.8 L426.1,899.3 L427.7,901.9 L429.2,904.5 L430.7,907.1 L432.3,909.7 L433.8,912.2 L435.4,914.8 L436.9,917.4 L438.5,919.9 L440.1,922.5 L441.6,925.0 L443.2,927.6 L444.8,930.1 L446.5,932.6 L448.1,935.1 L449.8,937.6 L451.4,940.1 L453.1,942.6 L454.9,945.1 L456.6,947.5 L458.4,949.9 L460.1,952.4 L461.9,954.7 L463.8,957.1 L465.6,959.5 L467.4,961.9 L469.3,964.2 L471.2,966.6 L473.1,968.9 L474.9,971.2 L476.8,973.6 L478.7,975.9 L480.6,978.2 L482.5,980.6 L484.5,982.9 L486.4,985.2 L488.3,987.5 L490.3,989.7 L492.2,992.0 L494.2,994.3 L496.2,996.5 L498.2,998.7 L500.3,1000.9 L502.3,1003.1 L504.4,1005.2 L506.5,1007.4 L508.6,1009.5 L510.8,1011.6 L512.9,1013.7 L515.1,1015.8 L517.3,1017.8 L519.4,1019.9 L521.6,1022.0 L523.8,1024.0 L526.0,1026.1 L528.2,1028.1 L530.4,1030.2 L532.6,1032.2 L534.8,1034.3 L537.0,1036.3 L539.2,1038.4 L541.4,1040.4 L543.6,1042.4 L545.8,1044.4 L548.0,1046.4 L550.3,1048.4 L552.6,1050.4 L554.9,1052.3 L557.2,1054.2 L559.5,1056.1 L561.8,1058.0 L564.2,1059.8 L566.6,1061.7 L569.0,1063.5 L571.3,1065.3 L573.7,1067.1 L576.1,1068.9 L578.6,1070.7 L581.0,1072.5 L583.4,1074.3 L585.8,1076.0 L588.2,1077.8 L590.7,1079.6 L593.1,1081.3 L595.5,1083.1 L598.0,1084.8 L600.4,1086.5 L602.9,1088.2 L605.4,1089.9 L607.9,1091.6 L610.4,1093.3 L612.9,1095.0 L615.4,1096.6 L617.9,1098.2 L620.5,1099.9 L623.0,1101.4 L625.6,1103.0 L628.2,1104.5 L630.8,1105.9 L633.5,1107.3 L636.2,1108.7 L638.9,1110.0 L641.6,1111.2 L644.3,1112.4 L647.1,1113.5 L649.9,1114.6 L652.7,1115.6 L655.6,1116.5 L658.4,1117.4 L661.3,1118.3 L664.2,1119.1 L667.1,1120.0 L670.0,1120.8 L672.9,1121.6 L675.8,1122.4 L678.7,1123.2 L681.6,1124.0 L684.5,1124.9 L687.3,1125.7 L690.2,1126.5 L693.1,1127.4 L696.0,1128.2 L698.9,1129.1 L701.7,1129.9 L704.6,1130.7 L707.5,1131.6 L710.4,1132.4 L713.3,1133.2 L716.2,1134.0 L719.0,1134.8 L721.9,1135.6 L724.8,1136.4 L727.7,1137.2 L730.6,1137.9 L733.5,1138.7 L736.4,1139.5 L739.3,1140.3 L742.2,1141.0 L745.1,1141.8 L748.0,1142.5 L750.9,1143.3 L753.8,1144.1 L756.7,1144.8 L759.7,1145.6 L762.6,1146.3 L765.5,1147.1 L768.4,1147.8 L771.3,1148.5 L774.2,1149.3 L777.1,1150.0 L780.0,1150.7 L782.9,1151.5 L785.8,1152.2 L788.7,1152.9 L791.6,1153.6 L794.6,1154.3 L797.5,1155.0 L800.4,1155.7 L803.3,1156.4 L806.3,1157.1 L809.2,1157.7 L812.1,1158.3 L815.0,1159.0 L818.0,1159.6 L820.9,1160.2 L823.9,1160.7 L826.8,1161.3 L829.8,1161.9 L832.7,1162.5 L835.6,1163.1 L838.6,1163.7 L841.5,1164.3 L844.5,1164.9 L847.4,1165.6 L850.3,1166.2 L853.2,1167.0 L856.1,1167.7 L859.0,1168.5 L861.9,1169.2 L864.8,1170.0 L867.7,1170.7 L870.6,1171.5 L873.6,1172.2 L876.5,1172.8 L879.4,1173.5 L882.3,1174.1 L885.3,1174.7 L888.2,1175.3 L891.1,1175.9 L894.1,1176.4 L897.0,1176.9 L900.0,1177.4 L902.9,1177.9 L905.9,1178.3 L908.9,1178.8 L911.8,1179.2 L914.8,1179.6 L917.8,1180.0 L920.7,1180.4 L923.7,1180.7 L926.7,1181.0 L929.7,1181.4 L932.7,1181.7 L935.7,1182.0 L938.6,1182.2 L941.6,1182.5 L944.6,1182.8 L947.6,1183.0 L950.6,1183.2 L953.6,1183.5 L956.6,1183.7 L959.6,1183.9 L962.6,1184.1 L965.7,1184.3 L968.7,1184.4 L971.7,1184.6 L974.7,1184.8 L977.7,1184.9 L980.7,1185.1 L983.7,1185.3 L986.7,1185.4 L989.7,1185.6 L992.7,1185.7 L995.8,1185.8 L998.8,1186.0 L1001.8,1186.1 L1004.8,1186.3 L1007.8,1186.4 L1010.8,1186.6 L1013.8,1186.7 L1016.8,1186.9 L1019.8,1187.0 L1022.9,1187.2 L1025.9,1187.3 L1028.9,1187.5 L1031.9,1187.6 L1034.9,1187.8 L1037.9,1188.0 L1040.9,1188.1 L1043.9,1188.3 L1046.9,1188.5 L1049.9,1188.7 L1052.9,1188.9 L1055.9,1189.0 L1058.9,1189.2 L1061.9,1189.4 L1064.9,1189.6 L1067.9,1189.8 L1070.9,1190.0 L1073.9,1190.2 L1076.8,1190.4 L1079.8,1190.6 L1082.8,1190.8 L1085.8,1191.0 L1088.8,1191.2 L1091.8,1191.4 L1094.8,1191.6 L1097.8,1191.8 L1100.8,1192.0 L1103.8,1192.2 L1106.8,1192.4 L1109.8,1192.6 L1112.7,1192.8 L1115.7,1193.0 L1118.7,1193.2 L1121.7,1193.3 L1124.7,1193.5 L1127.7,1193.7 L1130.7,1193.9 L1133.7,1194.1 L1136.7,1194.3 L1139.7,1194.5 L1142.6,1194.7 L1145.6,1194.9 L1148.6,1195.1 L1151.6,1195.3 L1154.6,1195.4 L1157.6,1195.6 L1160.6,1195.8 L1163.6,1196.0 L1166.6,1196.1 L1169.6,1196.3 L1172.5,1196.5 L1175.5,1196.6 L1178.5,1196.8 L1181.5,1196.9 L1184.5,1197.1 L1187.5,1197.3 L1190.5,1197.4 L1193.5,1197.6 L1196.5,1197.7 L1199.5,1197.8 L1202.5,1198.0 L1205.5,1198.1 L1208.5,1198.2 L1211.5,1198.4 L1214.5,1198.5 L1217.5,1198.6 L1220.5,1198.8 L1223.5,1198.9 L1226.5,1199.0 L1229.5,1199.1 L1232.5,1199.2 L1235.5,1199.4 L1238.5,1199.5 L1241.5,1199.6 L1244.5,1199.7 L1247.5,1199.8 L1250.4,1199.9 L1253.4,1200.0 L1256.4,1200.1 L1259.4,1200.2 L1262.4,1200.3 L1265.4,1200.4 L1268.4,1200.5 L1271.4,1200.6 L1274.4,1200.7 L1277.4,1200.8 L1280.4,1200.9 L1283.4,1201.0 L1286.4,1201.1 L1289.4,1201.2 L1292.4,1201.3 L1295.4,1201.3 L1298.4,1201.4 L1301.4,1201.5 L1304.4,1201.6 L1307.4,1201.7 L1310.4,1201.8 L1313.4,1201.8 L1316.4,1201.9 L1319.4,1202.0 L1322.4,1202.1 L1325.4,1202.2 L1328.4,1202.3 L1331.4,1202.3 L1334.4,1202.4 L1337.4,1202.5 L1340.4,1202.6 L1343.4,1202.6 L1346.4,1202.7 L1349.4,1202.8 L1352.4,1202.9 L1355.4,1202.9 L1358.4,1203.0 L1361.4,1203.1 L1364.4,1203.2 L1367.4,1203.2 L1370.4,1203.3 L1373.4,1203.4 L1376.4,1203.4 L1379.4,1203.5 L1382.4,1203.6 L1385.4,1203.7 L1388.4,1203.7 L1391.4,1203.8 L1394.4,1203.9 L1397.4,1203.9 L1400.4,1204.0 L1403.4,1204.1 L1406.4,1204.1 L1409.4,1204.2 L1412.4,1204.2 L1415.4,1204.3 L1418.4,1204.4 L1421.4,1204.4 L1424.4,1204.5 L1427.4,1204.5 L1430.4,1204.6 L1433.4,1204.7 L1436.4,1204.7 L1439.4,1204.8 L1442.4,1204.8 L1445.4,1204.9 L1448.4,1205.0 L1451.4,1205.0 L1454.4,1205.1 L1457.4,1205.1 L1460.4,1205.2 L1463.4,1205.2 L1466.4,1205.3 L1469.4,1205.3 L1472.4,1205.4 L1475.4,1205.4 L1478.4,1205.5 L1481.4,1205.5 L1484.4,1205.6 L1487.4,1205.6 L1490.4,1205.7 L1493.4,1205.7 L1496.4,1205.8 L1499.4,1205.8 L1502.4,1205.9 L1505.4,1205.9 L1508.4,1205.9 L1511.4,1206.0 L1514.4,1206.0 L1517.4,1206.1 L1520.4,1206.1 L1523.4,1206.2 L1526.4,1206.2 L1529.4,1206.2 L1532.4,1206.3 L1535.4,1206.3 L1538.4,1206.4 L1541.4,1206.4 L1544.4,1206.4 L1547.4,1206.5 L1550.4,1206.5 L1553.4,1206.5 L1556.4,1206.6 L1559.4,1206.6 L1562.4,1206.6 L1565.4,1206.7 L1568.4,1206.7 L1571.4,1206.7 L1574.4,1206.8 L1577.4,1206.8 L1580.4,1206.8 L1583.4,1206.9 L1586.4,1206.9 L1589.4,1206.9 L1592.4,1206.9 L1595.4,1207.0 L1598.4,1207.0 L1601.4,1207.0 L1604.4,1207.1 L1607.4,1207.1 L1610.4,1207.1 L1613.4,1207.1 L1616.4,1207.2 L1619.4,1207.2 L1622.4,1207.2 L1625.4,1207.2 L1628.4,1207.3 L1631.4,1207.3 L1634.4,1207.3 L1637.4,1207.3 L1640.4,1207.3 L1643.4,1207.4 L1646.4,1207.4 L1649.4,1207.4 L1652.4,1207.4 L1655.4,1207.4 L1658.4,1207.5 L1661.4,1207.5 L1664.4,1207.5 L1667.4,1207.5 L1670.4,1207.5 L1673.4,1207.6 L1676.4,1207.6 L1679.4,1207.6 L1682.4,1207.6 L1685.4,1207.6 L1688.4,1207.6 L1691.4,1207.7 L1694.4,1207.7 L1697.4,1207.7 L1700.4,1207.7 L1703.4,1207.7 L1706.4,1207.7 L1709.4,1207.7 L1712.4,1207.8 L1715.4,1207.8 L1718.4,1207.8 L1721.4,1207.8 L1724.4,1207.8 L1727.4,1207.8 L1730.4,1207.8 L1733.4,1207.9 L1736.4,1207.9 L1739.4,1207.9 L1742.4,1207.9 L1745.4,1207.9 L1748.4,1207.9 L1751.4,1207.9 L1754.4,1207.9 L1757.4,1207.9 L1760.4,1208.0 L1763.4,1208.0 L1766.4,1208.0 L1769.4,1208.0 L1772.4,1208.0 L1775.4,1208.0 L1778.4,1208.0 L1781.4,1208.0 L1784.4,1208.0 L1787.4,1208.1 L1790.4,1208.1 L1793.4,1208.1 L1796.4,1208.1 L1799.4,1208.1 L1802.4,1208.1 L1805.4,1208.1 L1808.4,1208.1 L1811.4,1208.1 L1814.4,1208.1 L1817.4,1208.1 L1820.4,1208.2 L1823.4,1208.2 L1826.4,1208.2 L1829.4,1208.2 L1832.4,1208.2 L1835.4,1208.2 L1838.4,1208.2 L1841.4,1208.2 L1844.4,1208.2 L1847.4,1208.2 L1850.4,1208.2 L1853.4,1208.3 L1856.4,1208.3 L1859.4,1208.3 L1862.4,1208.3 L1865.4,1208.3 L1868.4,1208.3 L1868.4,1208.3" stroke="#000000" stroke-dasharray="18,18" pathLength="2112.7"/>
</g>
<g fill="#262626" font-size="45">
<text x="174.94" y="1226.7">0</text>
<text x="88.24" y="991.8">0.005</text>
<text x="115.14" y="756.8">0.01</text>
<text x="88.24" y="521.9">0.015</text>
<text x="115.10" y="286.9">0.02</text>
<text x="88.05" y="52.0">0.025</text>
</g>
<g fill="#262626">
<text x="184.3" y="1287.8" font-size="45">10</text><text x="236.0" y="1264.8" font-size="36">1</text>
<text x="733.7" y="1287.8" font-size="45">10</text><text x="785.4" y="1264.8" font-size="36">2</text>
<text x="1283.0" y="1287.8" font-size="45">10</text><text x="1334.7" y="1264.8" font-size="36">3</text>
<text x="1832.4" y="1287.8" font-size="45">10</text><text x="1884.1" y="1264.8" font-size="36">4</text>
</g>
<text x="1043.5" y="1364" font-size="58.3" fill="#262626" text-anchor="middle">Number of Iterations</text>
<text transform="translate(61.2,622.5) rotate(-90)" font-size="58.5" fill="#262626" text-anchor="middle">Cauchy Error</text>
<rect x="1198.2" y="70.2" width="634.5" height="372.9" fill="#fff" stroke="#262626" stroke-width="2.3"/>
<line x1="1211.1" y1="106.3" x2="1346.3" y2="106.3" stroke="#0000ff" stroke-width="4.5"/>
<text x="1355.4" y="124.2" font-size="45" fill="#000">Gaussian</text>
<line x1="1211.1" y1="166.5" x2="1346.3" y2="166.5" stroke="#ff0000" stroke-width="4.5"/>
<text x="1355.4" y="184.4" font-size="45" fill="#000">Out of Focus</text>
<line x1="1211.1" y1="226.7" x2="1346.3" y2="226.7" stroke="#000000" stroke-width="4.5"/>
<text x="1355.4" y="244.6" font-size="45" fill="#000">Motion</text>
<line x1="1211.1" y1="286.9" x2="1346.3" y2="286.9" stroke="#0000ff" stroke-width="4.5" stroke-dasharray="18,18"/>
<text x="1355.4" y="304.8" font-size="45" fill="#000">Gaussian-Out of Focus</text>
<line x1="1211.1" y1="347.1" x2="1346.3" y2="347.1" stroke="#ff0000" stroke-width="4.5" stroke-dasharray="18,18"/>
<text x="1355.4" y="365.0" font-size="45" fill="#000">Gaussian-Motion</text>
<line x1="1211.1" y1="407.3" x2="1346.3" y2="407.3" stroke="#000000" stroke-width="4.5" stroke-dasharray="18,18"/>
<text x="1355.4" y="425.2" font-size="45" fill="#000">Motion-Out of Focus</text>
</svg></body></html>
